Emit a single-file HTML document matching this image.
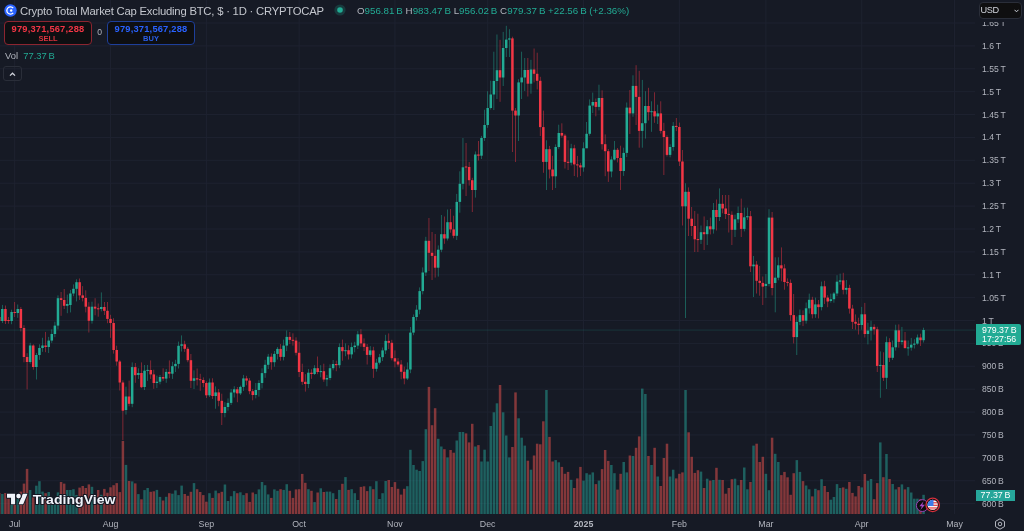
<!DOCTYPE html>
<html><head><meta charset="utf-8"><title>Crypto Total Market Cap Excluding BTC</title><style>
html,body{margin:0;padding:0;}
body{width:1024px;height:531px;overflow:hidden;background:#161a25;position:relative;font-family:"Liberation Sans",Arial,sans-serif;}
#chart{position:absolute;left:0;top:0;}
.pl{position:absolute;left:982px;height:12px;line-height:12px;font-size:8.6px;color:#b2b5be;white-space:nowrap;}
.tl{position:absolute;top:518px;width:40px;text-align:center;height:12px;line-height:12px;font-size:8.8px;color:#b2b5be;}
.tl.yr{font-weight:bold;}
#topmask{position:absolute;left:975px;top:0;width:49px;height:21.5px;background:#161a25;}
#usd{position:absolute;left:978.5px;top:2px;width:41px;height:14.5px;border:1px solid #2a2e39;border-radius:4px;background:#0f0f10;color:#d1d4dc;font-size:9.2px;letter-spacing:-0.35px;line-height:14.5px;}
#usd span{position:absolute;left:1px;top:0;}
#usd svg{position:absolute;right:1.8px;top:5.6px;}
.legend{position:absolute;left:0;top:0;white-space:nowrap;}
#title{position:absolute;left:20px;top:3.5px;font-size:11.3px;letter-spacing:-0.22px;line-height:15px;color:#c3c6cd;}
#logo{position:absolute;left:4px;top:4px;}
#ohlc{position:absolute;left:357px;top:4px;font-size:9.75px;line-height:14px;color:#22ab94;}
#ohlc b{font-weight:normal;color:#b2b5be;}
#dot{position:absolute;left:334px;top:4.3px;}
.box{position:absolute;top:21px;height:22px;border-radius:4px;background:#0e0f12;text-align:center;font-weight:bold;}
.box .n{font-size:9.3px;letter-spacing:0.2px;line-height:10px;margin-top:1.5px;}
.box .s{font-size:7.5px;line-height:9px;font-weight:bold;}
#sell{left:4px;width:86px;border:1px solid #8c2530;color:#f23645;}
#buy{left:107px;width:86px;border:1px solid #1e3f9a;color:#2962ff;}
#zero{position:absolute;left:97.2px;top:27px;font-size:8.6px;line-height:11px;color:#b2b5be;}
#vol{position:absolute;left:5px;top:50px;font-size:9.4px;line-height:12px;color:#b2b5be;}
#vol span{color:#22ab94;margin-left:5.2px;}
#coll{position:absolute;left:3px;top:66px;width:17px;height:13px;border:1px solid #2a2e39;border-radius:3px;}
#pricebox{position:absolute;left:976px;top:324.2px;width:45px;height:21px;background:#22ab94;border-radius:0 2px 2px 0;color:#fff;font-size:8.8px;line-height:9.5px;}
#pricebox div{margin-left:6px;}
#volbox{position:absolute;left:975.6px;top:489.6px;width:39.5px;height:11.5px;background:#26a69a;color:#fff;font-size:8.9px;line-height:11.5px;}
#volbox div{margin-left:5px;}
#tvlogo{position:absolute;left:0px;top:490px;}
#gear{position:absolute;left:994px;top:518px;}
#events{position:absolute;left:914px;top:497px;}
</style></head><body>
<svg id="chart" width="1024" height="531" viewBox="0 0 1024 531"><g><rect x="14.20" y="0" width="1" height="514" fill="#1e2230"/><rect x="110.03" y="0" width="1" height="514" fill="#1e2230"/><rect x="205.87" y="0" width="1" height="514" fill="#1e2230"/><rect x="298.61" y="0" width="1" height="514" fill="#1e2230"/><rect x="394.44" y="0" width="1" height="514" fill="#1e2230"/><rect x="487.18" y="0" width="1" height="514" fill="#1e2230"/><rect x="583.02" y="0" width="1" height="514" fill="#1e2230"/><rect x="678.85" y="0" width="1" height="514" fill="#1e2230"/><rect x="765.41" y="0" width="1" height="514" fill="#1e2230"/><rect x="861.24" y="0" width="1" height="514" fill="#1e2230"/><rect x="953.99" y="0" width="1" height="514" fill="#1e2230"/><rect x="0" y="22.52" width="975" height="1" fill="#1e2230"/><rect x="0" y="45.40" width="975" height="1" fill="#1e2230"/><rect x="0" y="68.29" width="975" height="1" fill="#1e2230"/><rect x="0" y="91.17" width="975" height="1" fill="#1e2230"/><rect x="0" y="114.06" width="975" height="1" fill="#1e2230"/><rect x="0" y="136.94" width="975" height="1" fill="#1e2230"/><rect x="0" y="159.82" width="975" height="1" fill="#1e2230"/><rect x="0" y="182.71" width="975" height="1" fill="#1e2230"/><rect x="0" y="205.60" width="975" height="1" fill="#1e2230"/><rect x="0" y="228.48" width="975" height="1" fill="#1e2230"/><rect x="0" y="251.37" width="975" height="1" fill="#1e2230"/><rect x="0" y="274.25" width="975" height="1" fill="#1e2230"/><rect x="0" y="297.13" width="975" height="1" fill="#1e2230"/><rect x="0" y="320.02" width="975" height="1" fill="#1e2230"/><rect x="0" y="342.91" width="975" height="1" fill="#1e2230"/><rect x="0" y="365.79" width="975" height="1" fill="#1e2230"/><rect x="0" y="388.68" width="975" height="1" fill="#1e2230"/><rect x="0" y="411.56" width="975" height="1" fill="#1e2230"/><rect x="0" y="434.44" width="975" height="1" fill="#1e2230"/><rect x="0" y="457.33" width="975" height="1" fill="#1e2230"/><rect x="0" y="480.21" width="975" height="1" fill="#1e2230"/><rect x="0" y="503.10" width="975" height="1" fill="#1e2230"/></g><g><rect x="-2.01" y="493.0" width="2.5" height="21.0" fill="rgba(239,83,80,0.5)"/><rect x="1.08" y="494.0" width="2.5" height="20.0" fill="rgba(38,166,154,0.5)"/><rect x="4.18" y="493.0" width="2.5" height="21.0" fill="rgba(239,83,80,0.5)"/><rect x="7.27" y="495.0" width="2.5" height="19.0" fill="rgba(239,83,80,0.5)"/><rect x="10.36" y="497.0" width="2.5" height="17.0" fill="rgba(38,166,154,0.5)"/><rect x="13.45" y="497.0" width="2.5" height="17.0" fill="rgba(239,83,80,0.5)"/><rect x="16.54" y="498.0" width="2.5" height="16.0" fill="rgba(38,166,154,0.5)"/><rect x="19.63" y="491.6" width="2.5" height="22.4" fill="rgba(239,83,80,0.5)"/><rect x="22.72" y="483.6" width="2.5" height="30.4" fill="rgba(239,83,80,0.5)"/><rect x="25.82" y="468.9" width="2.5" height="45.1" fill="rgba(239,83,80,0.5)"/><rect x="28.91" y="490.0" width="2.5" height="24.0" fill="rgba(38,166,154,0.5)"/><rect x="32.00" y="497.0" width="2.5" height="17.0" fill="rgba(239,83,80,0.5)"/><rect x="35.09" y="485.7" width="2.5" height="28.3" fill="rgba(38,166,154,0.5)"/><rect x="38.18" y="481.2" width="2.5" height="32.8" fill="rgba(38,166,154,0.5)"/><rect x="41.27" y="491.6" width="2.5" height="22.4" fill="rgba(38,166,154,0.5)"/><rect x="44.36" y="493.2" width="2.5" height="20.8" fill="rgba(239,83,80,0.5)"/><rect x="47.46" y="492.0" width="2.5" height="22.0" fill="rgba(38,166,154,0.5)"/><rect x="50.55" y="501.0" width="2.5" height="13.0" fill="rgba(38,166,154,0.5)"/><rect x="53.64" y="500.0" width="2.5" height="14.0" fill="rgba(38,166,154,0.5)"/><rect x="56.73" y="492.4" width="2.5" height="21.6" fill="rgba(38,166,154,0.5)"/><rect x="59.82" y="482.0" width="2.5" height="32.0" fill="rgba(239,83,80,0.5)"/><rect x="62.91" y="483.6" width="2.5" height="30.4" fill="rgba(239,83,80,0.5)"/><rect x="66.00" y="490.0" width="2.5" height="24.0" fill="rgba(38,166,154,0.5)"/><rect x="69.10" y="490.0" width="2.5" height="24.0" fill="rgba(38,166,154,0.5)"/><rect x="72.19" y="489.2" width="2.5" height="24.8" fill="rgba(38,166,154,0.5)"/><rect x="75.28" y="495.0" width="2.5" height="19.0" fill="rgba(38,166,154,0.5)"/><rect x="78.37" y="487.6" width="2.5" height="26.4" fill="rgba(239,83,80,0.5)"/><rect x="81.46" y="486.0" width="2.5" height="28.0" fill="rgba(239,83,80,0.5)"/><rect x="84.55" y="488.0" width="2.5" height="26.0" fill="rgba(239,83,80,0.5)"/><rect x="87.64" y="484.4" width="2.5" height="29.6" fill="rgba(239,83,80,0.5)"/><rect x="90.73" y="486.8" width="2.5" height="27.2" fill="rgba(38,166,154,0.5)"/><rect x="93.83" y="495.0" width="2.5" height="19.0" fill="rgba(239,83,80,0.5)"/><rect x="96.92" y="490.0" width="2.5" height="24.0" fill="rgba(239,83,80,0.5)"/><rect x="100.01" y="494.8" width="2.5" height="19.2" fill="rgba(38,166,154,0.5)"/><rect x="103.10" y="488.9" width="2.5" height="25.1" fill="rgba(239,83,80,0.5)"/><rect x="106.19" y="492.7" width="2.5" height="21.3" fill="rgba(239,83,80,0.5)"/><rect x="109.28" y="487.3" width="2.5" height="26.7" fill="rgba(239,83,80,0.5)"/><rect x="112.37" y="485.2" width="2.5" height="28.8" fill="rgba(239,83,80,0.5)"/><rect x="115.47" y="483.1" width="2.5" height="30.9" fill="rgba(239,83,80,0.5)"/><rect x="118.56" y="492.1" width="2.5" height="21.9" fill="rgba(239,83,80,0.5)"/><rect x="121.65" y="440.9" width="2.5" height="73.1" fill="rgba(239,83,80,0.5)"/><rect x="124.74" y="464.9" width="2.5" height="49.1" fill="rgba(38,166,154,0.5)"/><rect x="127.83" y="481.0" width="2.5" height="33.0" fill="rgba(239,83,80,0.5)"/><rect x="130.92" y="481.4" width="2.5" height="32.6" fill="rgba(38,166,154,0.5)"/><rect x="134.01" y="483.4" width="2.5" height="30.6" fill="rgba(239,83,80,0.5)"/><rect x="137.11" y="494.1" width="2.5" height="19.9" fill="rgba(38,166,154,0.5)"/><rect x="140.20" y="499.3" width="2.5" height="14.7" fill="rgba(239,83,80,0.5)"/><rect x="143.29" y="490.1" width="2.5" height="23.9" fill="rgba(38,166,154,0.5)"/><rect x="146.38" y="488.0" width="2.5" height="26.0" fill="rgba(38,166,154,0.5)"/><rect x="149.47" y="491.8" width="2.5" height="22.2" fill="rgba(239,83,80,0.5)"/><rect x="152.56" y="491.3" width="2.5" height="22.7" fill="rgba(239,83,80,0.5)"/><rect x="155.65" y="489.9" width="2.5" height="24.1" fill="rgba(38,166,154,0.5)"/><rect x="158.75" y="496.9" width="2.5" height="17.1" fill="rgba(38,166,154,0.5)"/><rect x="161.84" y="500.5" width="2.5" height="13.5" fill="rgba(239,83,80,0.5)"/><rect x="164.93" y="496.8" width="2.5" height="17.2" fill="rgba(38,166,154,0.5)"/><rect x="168.02" y="493.2" width="2.5" height="20.8" fill="rgba(239,83,80,0.5)"/><rect x="171.11" y="493.7" width="2.5" height="20.3" fill="rgba(38,166,154,0.5)"/><rect x="174.20" y="490.4" width="2.5" height="23.6" fill="rgba(38,166,154,0.5)"/><rect x="177.29" y="495.1" width="2.5" height="18.9" fill="rgba(38,166,154,0.5)"/><rect x="180.39" y="485.6" width="2.5" height="28.4" fill="rgba(38,166,154,0.5)"/><rect x="183.48" y="494.0" width="2.5" height="20.0" fill="rgba(239,83,80,0.5)"/><rect x="186.57" y="495.8" width="2.5" height="18.2" fill="rgba(239,83,80,0.5)"/><rect x="189.66" y="491.8" width="2.5" height="22.2" fill="rgba(239,83,80,0.5)"/><rect x="192.75" y="483.1" width="2.5" height="30.9" fill="rgba(38,166,154,0.5)"/><rect x="195.84" y="489.2" width="2.5" height="24.8" fill="rgba(239,83,80,0.5)"/><rect x="198.93" y="492.0" width="2.5" height="22.0" fill="rgba(239,83,80,0.5)"/><rect x="202.03" y="495.1" width="2.5" height="18.9" fill="rgba(239,83,80,0.5)"/><rect x="205.12" y="501.7" width="2.5" height="12.3" fill="rgba(239,83,80,0.5)"/><rect x="208.21" y="493.2" width="2.5" height="20.8" fill="rgba(38,166,154,0.5)"/><rect x="211.30" y="497.9" width="2.5" height="16.1" fill="rgba(239,83,80,0.5)"/><rect x="214.39" y="490.6" width="2.5" height="23.4" fill="rgba(38,166,154,0.5)"/><rect x="217.48" y="493.2" width="2.5" height="20.8" fill="rgba(239,83,80,0.5)"/><rect x="220.57" y="491.8" width="2.5" height="22.2" fill="rgba(239,83,80,0.5)"/><rect x="223.67" y="484.5" width="2.5" height="29.5" fill="rgba(38,166,154,0.5)"/><rect x="226.76" y="501.0" width="2.5" height="13.0" fill="rgba(38,166,154,0.5)"/><rect x="229.85" y="496.2" width="2.5" height="17.8" fill="rgba(38,166,154,0.5)"/><rect x="232.94" y="491.1" width="2.5" height="22.9" fill="rgba(38,166,154,0.5)"/><rect x="236.03" y="493.2" width="2.5" height="20.8" fill="rgba(239,83,80,0.5)"/><rect x="239.12" y="492.3" width="2.5" height="21.7" fill="rgba(38,166,154,0.5)"/><rect x="242.21" y="495.1" width="2.5" height="18.9" fill="rgba(38,166,154,0.5)"/><rect x="245.31" y="493.2" width="2.5" height="20.8" fill="rgba(239,83,80,0.5)"/><rect x="248.40" y="501.9" width="2.5" height="12.1" fill="rgba(239,83,80,0.5)"/><rect x="251.49" y="492.5" width="2.5" height="21.5" fill="rgba(239,83,80,0.5)"/><rect x="254.58" y="494.1" width="2.5" height="19.9" fill="rgba(38,166,154,0.5)"/><rect x="257.67" y="489.4" width="2.5" height="24.6" fill="rgba(38,166,154,0.5)"/><rect x="260.76" y="482.0" width="2.5" height="32.0" fill="rgba(38,166,154,0.5)"/><rect x="263.85" y="485.2" width="2.5" height="28.8" fill="rgba(38,166,154,0.5)"/><rect x="266.94" y="494.4" width="2.5" height="19.6" fill="rgba(38,166,154,0.5)"/><rect x="270.04" y="497.9" width="2.5" height="16.1" fill="rgba(239,83,80,0.5)"/><rect x="273.13" y="489.4" width="2.5" height="24.6" fill="rgba(38,166,154,0.5)"/><rect x="276.22" y="490.8" width="2.5" height="23.2" fill="rgba(38,166,154,0.5)"/><rect x="279.31" y="489.2" width="2.5" height="24.8" fill="rgba(239,83,80,0.5)"/><rect x="282.40" y="489.9" width="2.5" height="24.1" fill="rgba(38,166,154,0.5)"/><rect x="285.49" y="484.2" width="2.5" height="29.8" fill="rgba(38,166,154,0.5)"/><rect x="288.58" y="490.8" width="2.5" height="23.2" fill="rgba(239,83,80,0.5)"/><rect x="291.68" y="497.9" width="2.5" height="16.1" fill="rgba(239,83,80,0.5)"/><rect x="294.77" y="489.4" width="2.5" height="24.6" fill="rgba(239,83,80,0.5)"/><rect x="297.86" y="489.2" width="2.5" height="24.8" fill="rgba(239,83,80,0.5)"/><rect x="300.95" y="473.9" width="2.5" height="40.1" fill="rgba(239,83,80,0.5)"/><rect x="304.04" y="482.8" width="2.5" height="31.2" fill="rgba(239,83,80,0.5)"/><rect x="307.13" y="489.2" width="2.5" height="24.8" fill="rgba(38,166,154,0.5)"/><rect x="310.22" y="490.8" width="2.5" height="23.2" fill="rgba(239,83,80,0.5)"/><rect x="313.32" y="502.1" width="2.5" height="11.9" fill="rgba(38,166,154,0.5)"/><rect x="316.41" y="492.5" width="2.5" height="21.5" fill="rgba(239,83,80,0.5)"/><rect x="319.50" y="488.3" width="2.5" height="25.7" fill="rgba(38,166,154,0.5)"/><rect x="322.59" y="492.0" width="2.5" height="22.0" fill="rgba(239,83,80,0.5)"/><rect x="325.68" y="491.6" width="2.5" height="22.4" fill="rgba(38,166,154,0.5)"/><rect x="328.77" y="491.6" width="2.5" height="22.4" fill="rgba(38,166,154,0.5)"/><rect x="331.86" y="493.2" width="2.5" height="20.8" fill="rgba(38,166,154,0.5)"/><rect x="334.96" y="499.0" width="2.5" height="15.0" fill="rgba(239,83,80,0.5)"/><rect x="338.05" y="489.9" width="2.5" height="24.1" fill="rgba(38,166,154,0.5)"/><rect x="341.14" y="483.8" width="2.5" height="30.2" fill="rgba(239,83,80,0.5)"/><rect x="344.23" y="477.1" width="2.5" height="36.9" fill="rgba(38,166,154,0.5)"/><rect x="347.32" y="489.9" width="2.5" height="24.1" fill="rgba(239,83,80,0.5)"/><rect x="350.41" y="489.2" width="2.5" height="24.8" fill="rgba(38,166,154,0.5)"/><rect x="353.50" y="493.2" width="2.5" height="20.8" fill="rgba(38,166,154,0.5)"/><rect x="356.60" y="500.0" width="2.5" height="14.0" fill="rgba(38,166,154,0.5)"/><rect x="359.69" y="486.9" width="2.5" height="27.1" fill="rgba(239,83,80,0.5)"/><rect x="362.78" y="486.3" width="2.5" height="27.7" fill="rgba(239,83,80,0.5)"/><rect x="365.87" y="491.1" width="2.5" height="22.9" fill="rgba(239,83,80,0.5)"/><rect x="368.96" y="486.3" width="2.5" height="27.7" fill="rgba(38,166,154,0.5)"/><rect x="372.05" y="489.2" width="2.5" height="24.8" fill="rgba(239,83,80,0.5)"/><rect x="375.14" y="481.2" width="2.5" height="32.8" fill="rgba(38,166,154,0.5)"/><rect x="378.24" y="499.0" width="2.5" height="15.0" fill="rgba(38,166,154,0.5)"/><rect x="381.33" y="493.2" width="2.5" height="20.8" fill="rgba(38,166,154,0.5)"/><rect x="384.42" y="481.0" width="2.5" height="33.0" fill="rgba(38,166,154,0.5)"/><rect x="387.51" y="480.0" width="2.5" height="34.0" fill="rgba(239,83,80,0.5)"/><rect x="390.60" y="487.0" width="2.5" height="27.0" fill="rgba(239,83,80,0.5)"/><rect x="393.69" y="482.1" width="2.5" height="31.9" fill="rgba(239,83,80,0.5)"/><rect x="396.78" y="488.8" width="2.5" height="25.2" fill="rgba(239,83,80,0.5)"/><rect x="399.88" y="494.6" width="2.5" height="19.4" fill="rgba(239,83,80,0.5)"/><rect x="402.97" y="488.8" width="2.5" height="25.2" fill="rgba(239,83,80,0.5)"/><rect x="406.06" y="486.2" width="2.5" height="27.8" fill="rgba(38,166,154,0.5)"/><rect x="409.15" y="449.8" width="2.5" height="64.2" fill="rgba(38,166,154,0.5)"/><rect x="412.24" y="465.0" width="2.5" height="49.0" fill="rgba(38,166,154,0.5)"/><rect x="415.33" y="469.7" width="2.5" height="44.3" fill="rgba(38,166,154,0.5)"/><rect x="418.42" y="471.0" width="2.5" height="43.0" fill="rgba(38,166,154,0.5)"/><rect x="421.51" y="461.1" width="2.5" height="52.9" fill="rgba(38,166,154,0.5)"/><rect x="424.61" y="429.2" width="2.5" height="84.8" fill="rgba(38,166,154,0.5)"/><rect x="427.70" y="386.9" width="2.5" height="127.1" fill="rgba(239,83,80,0.5)"/><rect x="430.79" y="425.2" width="2.5" height="88.8" fill="rgba(239,83,80,0.5)"/><rect x="433.88" y="408.2" width="2.5" height="105.8" fill="rgba(239,83,80,0.5)"/><rect x="436.97" y="438.8" width="2.5" height="75.2" fill="rgba(38,166,154,0.5)"/><rect x="440.06" y="446.5" width="2.5" height="67.5" fill="rgba(38,166,154,0.5)"/><rect x="443.15" y="449.2" width="2.5" height="64.8" fill="rgba(239,83,80,0.5)"/><rect x="446.25" y="457.4" width="2.5" height="56.6" fill="rgba(38,166,154,0.5)"/><rect x="449.34" y="450.0" width="2.5" height="64.0" fill="rgba(239,83,80,0.5)"/><rect x="452.43" y="452.7" width="2.5" height="61.3" fill="rgba(239,83,80,0.5)"/><rect x="455.52" y="440.5" width="2.5" height="73.5" fill="rgba(38,166,154,0.5)"/><rect x="458.61" y="432.0" width="2.5" height="82.0" fill="rgba(38,166,154,0.5)"/><rect x="461.70" y="432.0" width="2.5" height="82.0" fill="rgba(38,166,154,0.5)"/><rect x="464.79" y="433.4" width="2.5" height="80.6" fill="rgba(239,83,80,0.5)"/><rect x="467.89" y="442.4" width="2.5" height="71.6" fill="rgba(239,83,80,0.5)"/><rect x="470.98" y="423.8" width="2.5" height="90.2" fill="rgba(239,83,80,0.5)"/><rect x="474.07" y="446.5" width="2.5" height="67.5" fill="rgba(38,166,154,0.5)"/><rect x="477.16" y="445.1" width="2.5" height="68.9" fill="rgba(239,83,80,0.5)"/><rect x="480.25" y="461.5" width="2.5" height="52.5" fill="rgba(38,166,154,0.5)"/><rect x="483.34" y="449.7" width="2.5" height="64.3" fill="rgba(38,166,154,0.5)"/><rect x="486.43" y="461.5" width="2.5" height="52.5" fill="rgba(38,166,154,0.5)"/><rect x="489.53" y="426.0" width="2.5" height="88.0" fill="rgba(38,166,154,0.5)"/><rect x="492.62" y="412.3" width="2.5" height="101.7" fill="rgba(38,166,154,0.5)"/><rect x="495.71" y="403.3" width="2.5" height="110.7" fill="rgba(38,166,154,0.5)"/><rect x="498.80" y="385.0" width="2.5" height="129.0" fill="rgba(239,83,80,0.5)"/><rect x="501.89" y="412.3" width="2.5" height="101.7" fill="rgba(38,166,154,0.5)"/><rect x="504.98" y="435.5" width="2.5" height="78.5" fill="rgba(38,166,154,0.5)"/><rect x="508.07" y="457.4" width="2.5" height="56.6" fill="rgba(38,166,154,0.5)"/><rect x="511.17" y="447.0" width="2.5" height="67.0" fill="rgba(239,83,80,0.5)"/><rect x="514.26" y="392.4" width="2.5" height="121.6" fill="rgba(239,83,80,0.5)"/><rect x="517.35" y="418.3" width="2.5" height="95.7" fill="rgba(38,166,154,0.5)"/><rect x="520.44" y="437.7" width="2.5" height="76.3" fill="rgba(38,166,154,0.5)"/><rect x="523.53" y="445.6" width="2.5" height="68.4" fill="rgba(38,166,154,0.5)"/><rect x="526.62" y="460.7" width="2.5" height="53.3" fill="rgba(239,83,80,0.5)"/><rect x="529.71" y="469.7" width="2.5" height="44.3" fill="rgba(38,166,154,0.5)"/><rect x="532.81" y="455.5" width="2.5" height="58.5" fill="rgba(239,83,80,0.5)"/><rect x="535.90" y="443.7" width="2.5" height="70.3" fill="rgba(239,83,80,0.5)"/><rect x="538.99" y="444.3" width="2.5" height="69.7" fill="rgba(239,83,80,0.5)"/><rect x="542.08" y="421.3" width="2.5" height="92.7" fill="rgba(239,83,80,0.5)"/><rect x="545.17" y="390.0" width="2.5" height="124.0" fill="rgba(38,166,154,0.5)"/><rect x="548.26" y="436.9" width="2.5" height="77.1" fill="rgba(239,83,80,0.5)"/><rect x="551.35" y="461.5" width="2.5" height="52.5" fill="rgba(239,83,80,0.5)"/><rect x="554.45" y="460.1" width="2.5" height="53.9" fill="rgba(38,166,154,0.5)"/><rect x="557.54" y="462.3" width="2.5" height="51.7" fill="rgba(38,166,154,0.5)"/><rect x="560.63" y="466.9" width="2.5" height="47.1" fill="rgba(239,83,80,0.5)"/><rect x="563.72" y="473.8" width="2.5" height="40.2" fill="rgba(239,83,80,0.5)"/><rect x="566.81" y="471.9" width="2.5" height="42.1" fill="rgba(239,83,80,0.5)"/><rect x="569.90" y="479.8" width="2.5" height="34.2" fill="rgba(38,166,154,0.5)"/><rect x="572.99" y="488.0" width="2.5" height="26.0" fill="rgba(239,83,80,0.5)"/><rect x="576.08" y="478.4" width="2.5" height="35.6" fill="rgba(239,83,80,0.5)"/><rect x="579.18" y="466.9" width="2.5" height="47.1" fill="rgba(239,83,80,0.5)"/><rect x="582.27" y="480.6" width="2.5" height="33.4" fill="rgba(38,166,154,0.5)"/><rect x="585.36" y="473.2" width="2.5" height="40.8" fill="rgba(38,166,154,0.5)"/><rect x="588.45" y="474.6" width="2.5" height="39.4" fill="rgba(38,166,154,0.5)"/><rect x="591.54" y="472.4" width="2.5" height="41.6" fill="rgba(38,166,154,0.5)"/><rect x="594.63" y="484.1" width="2.5" height="29.9" fill="rgba(239,83,80,0.5)"/><rect x="597.72" y="480.6" width="2.5" height="33.4" fill="rgba(38,166,154,0.5)"/><rect x="600.82" y="469.1" width="2.5" height="44.9" fill="rgba(239,83,80,0.5)"/><rect x="603.91" y="450.0" width="2.5" height="64.0" fill="rgba(239,83,80,0.5)"/><rect x="607.00" y="460.9" width="2.5" height="53.1" fill="rgba(239,83,80,0.5)"/><rect x="610.09" y="465.0" width="2.5" height="49.0" fill="rgba(38,166,154,0.5)"/><rect x="613.18" y="473.2" width="2.5" height="40.8" fill="rgba(38,166,154,0.5)"/><rect x="616.27" y="489.6" width="2.5" height="24.4" fill="rgba(239,83,80,0.5)"/><rect x="619.36" y="473.8" width="2.5" height="40.2" fill="rgba(239,83,80,0.5)"/><rect x="622.46" y="462.0" width="2.5" height="52.0" fill="rgba(38,166,154,0.5)"/><rect x="625.55" y="472.4" width="2.5" height="41.6" fill="rgba(38,166,154,0.5)"/><rect x="628.64" y="455.5" width="2.5" height="58.5" fill="rgba(239,83,80,0.5)"/><rect x="631.73" y="456.0" width="2.5" height="58.0" fill="rgba(38,166,154,0.5)"/><rect x="634.82" y="447.8" width="2.5" height="66.2" fill="rgba(239,83,80,0.5)"/><rect x="637.91" y="436.4" width="2.5" height="77.6" fill="rgba(239,83,80,0.5)"/><rect x="641.00" y="388.6" width="2.5" height="125.4" fill="rgba(38,166,154,0.5)"/><rect x="644.10" y="394.0" width="2.5" height="120.0" fill="rgba(38,166,154,0.5)"/><rect x="647.19" y="456.0" width="2.5" height="58.0" fill="rgba(239,83,80,0.5)"/><rect x="650.28" y="465.0" width="2.5" height="49.0" fill="rgba(38,166,154,0.5)"/><rect x="653.37" y="447.8" width="2.5" height="66.2" fill="rgba(239,83,80,0.5)"/><rect x="656.46" y="476.5" width="2.5" height="37.5" fill="rgba(38,166,154,0.5)"/><rect x="659.55" y="486.0" width="2.5" height="28.0" fill="rgba(239,83,80,0.5)"/><rect x="662.64" y="458.0" width="2.5" height="56.0" fill="rgba(239,83,80,0.5)"/><rect x="665.74" y="443.7" width="2.5" height="70.3" fill="rgba(239,83,80,0.5)"/><rect x="668.83" y="476.5" width="2.5" height="37.5" fill="rgba(38,166,154,0.5)"/><rect x="671.92" y="469.7" width="2.5" height="44.3" fill="rgba(38,166,154,0.5)"/><rect x="675.01" y="478.4" width="2.5" height="35.6" fill="rgba(239,83,80,0.5)"/><rect x="678.10" y="473.8" width="2.5" height="40.2" fill="rgba(239,83,80,0.5)"/><rect x="681.19" y="472.4" width="2.5" height="41.6" fill="rgba(239,83,80,0.5)"/><rect x="684.28" y="390.0" width="2.5" height="124.0" fill="rgba(38,166,154,0.5)"/><rect x="687.38" y="432.3" width="2.5" height="81.7" fill="rgba(239,83,80,0.5)"/><rect x="690.47" y="456.8" width="2.5" height="57.2" fill="rgba(239,83,80,0.5)"/><rect x="693.56" y="472.9" width="2.5" height="41.1" fill="rgba(239,83,80,0.5)"/><rect x="696.65" y="470.2" width="2.5" height="43.8" fill="rgba(239,83,80,0.5)"/><rect x="699.74" y="471.6" width="2.5" height="42.4" fill="rgba(38,166,154,0.5)"/><rect x="702.83" y="488.0" width="2.5" height="26.0" fill="rgba(239,83,80,0.5)"/><rect x="705.92" y="478.7" width="2.5" height="35.3" fill="rgba(38,166,154,0.5)"/><rect x="709.02" y="480.6" width="2.5" height="33.4" fill="rgba(239,83,80,0.5)"/><rect x="712.11" y="480.0" width="2.5" height="34.0" fill="rgba(38,166,154,0.5)"/><rect x="715.20" y="467.8" width="2.5" height="46.2" fill="rgba(239,83,80,0.5)"/><rect x="718.29" y="479.8" width="2.5" height="34.2" fill="rgba(38,166,154,0.5)"/><rect x="721.38" y="480.0" width="2.5" height="34.0" fill="rgba(239,83,80,0.5)"/><rect x="724.47" y="493.7" width="2.5" height="20.3" fill="rgba(239,83,80,0.5)"/><rect x="727.56" y="488.0" width="2.5" height="26.0" fill="rgba(239,83,80,0.5)"/><rect x="730.65" y="479.2" width="2.5" height="34.8" fill="rgba(239,83,80,0.5)"/><rect x="733.75" y="478.7" width="2.5" height="35.3" fill="rgba(38,166,154,0.5)"/><rect x="736.84" y="485.2" width="2.5" height="28.8" fill="rgba(38,166,154,0.5)"/><rect x="739.93" y="480.0" width="2.5" height="34.0" fill="rgba(239,83,80,0.5)"/><rect x="743.02" y="467.5" width="2.5" height="46.5" fill="rgba(38,166,154,0.5)"/><rect x="746.11" y="489.3" width="2.5" height="24.7" fill="rgba(38,166,154,0.5)"/><rect x="749.20" y="482.0" width="2.5" height="32.0" fill="rgba(239,83,80,0.5)"/><rect x="752.29" y="445.6" width="2.5" height="68.4" fill="rgba(38,166,154,0.5)"/><rect x="755.39" y="443.7" width="2.5" height="70.3" fill="rgba(239,83,80,0.5)"/><rect x="758.48" y="462.0" width="2.5" height="52.0" fill="rgba(239,83,80,0.5)"/><rect x="761.57" y="456.8" width="2.5" height="57.2" fill="rgba(239,83,80,0.5)"/><rect x="764.66" y="473.8" width="2.5" height="40.2" fill="rgba(38,166,154,0.5)"/><rect x="767.75" y="490.2" width="2.5" height="23.8" fill="rgba(38,166,154,0.5)"/><rect x="770.84" y="437.7" width="2.5" height="76.3" fill="rgba(239,83,80,0.5)"/><rect x="773.93" y="453.8" width="2.5" height="60.2" fill="rgba(38,166,154,0.5)"/><rect x="777.03" y="462.0" width="2.5" height="52.0" fill="rgba(38,166,154,0.5)"/><rect x="780.12" y="475.1" width="2.5" height="38.9" fill="rgba(239,83,80,0.5)"/><rect x="783.21" y="471.9" width="2.5" height="42.1" fill="rgba(239,83,80,0.5)"/><rect x="786.30" y="477.3" width="2.5" height="36.7" fill="rgba(239,83,80,0.5)"/><rect x="789.39" y="494.8" width="2.5" height="19.2" fill="rgba(239,83,80,0.5)"/><rect x="792.48" y="473.2" width="2.5" height="40.8" fill="rgba(239,83,80,0.5)"/><rect x="795.57" y="460.1" width="2.5" height="53.9" fill="rgba(38,166,154,0.5)"/><rect x="798.67" y="471.9" width="2.5" height="42.1" fill="rgba(38,166,154,0.5)"/><rect x="801.76" y="481.1" width="2.5" height="32.9" fill="rgba(239,83,80,0.5)"/><rect x="804.85" y="485.5" width="2.5" height="28.5" fill="rgba(38,166,154,0.5)"/><rect x="807.94" y="489.3" width="2.5" height="24.7" fill="rgba(38,166,154,0.5)"/><rect x="811.03" y="496.4" width="2.5" height="17.6" fill="rgba(239,83,80,0.5)"/><rect x="814.12" y="488.8" width="2.5" height="25.2" fill="rgba(38,166,154,0.5)"/><rect x="817.21" y="490.2" width="2.5" height="23.8" fill="rgba(239,83,80,0.5)"/><rect x="820.31" y="479.2" width="2.5" height="34.8" fill="rgba(38,166,154,0.5)"/><rect x="823.40" y="486.0" width="2.5" height="28.0" fill="rgba(239,83,80,0.5)"/><rect x="826.49" y="492.0" width="2.5" height="22.0" fill="rgba(239,83,80,0.5)"/><rect x="829.58" y="499.7" width="2.5" height="14.3" fill="rgba(38,166,154,0.5)"/><rect x="832.67" y="497.0" width="2.5" height="17.0" fill="rgba(38,166,154,0.5)"/><rect x="835.76" y="484.1" width="2.5" height="29.9" fill="rgba(38,166,154,0.5)"/><rect x="838.85" y="488.0" width="2.5" height="26.0" fill="rgba(38,166,154,0.5)"/><rect x="841.95" y="487.4" width="2.5" height="26.6" fill="rgba(239,83,80,0.5)"/><rect x="845.04" y="488.8" width="2.5" height="25.2" fill="rgba(38,166,154,0.5)"/><rect x="848.13" y="482.0" width="2.5" height="32.0" fill="rgba(239,83,80,0.5)"/><rect x="851.22" y="492.9" width="2.5" height="21.1" fill="rgba(239,83,80,0.5)"/><rect x="854.31" y="496.4" width="2.5" height="17.6" fill="rgba(239,83,80,0.5)"/><rect x="857.40" y="486.0" width="2.5" height="28.0" fill="rgba(239,83,80,0.5)"/><rect x="860.49" y="487.4" width="2.5" height="26.6" fill="rgba(38,166,154,0.5)"/><rect x="863.59" y="474.0" width="2.5" height="40.0" fill="rgba(239,83,80,0.5)"/><rect x="866.68" y="480.8" width="2.5" height="33.2" fill="rgba(38,166,154,0.5)"/><rect x="869.77" y="479.0" width="2.5" height="35.0" fill="rgba(38,166,154,0.5)"/><rect x="872.86" y="499.2" width="2.5" height="14.8" fill="rgba(239,83,80,0.5)"/><rect x="875.95" y="483.1" width="2.5" height="30.9" fill="rgba(239,83,80,0.5)"/><rect x="879.04" y="442.4" width="2.5" height="71.6" fill="rgba(38,166,154,0.5)"/><rect x="882.13" y="477.2" width="2.5" height="36.8" fill="rgba(239,83,80,0.5)"/><rect x="885.22" y="454.0" width="2.5" height="60.0" fill="rgba(38,166,154,0.5)"/><rect x="888.32" y="479.0" width="2.5" height="35.0" fill="rgba(239,83,80,0.5)"/><rect x="891.41" y="484.0" width="2.5" height="30.0" fill="rgba(38,166,154,0.5)"/><rect x="894.50" y="489.4" width="2.5" height="24.6" fill="rgba(38,166,154,0.5)"/><rect x="897.59" y="487.1" width="2.5" height="26.9" fill="rgba(239,83,80,0.5)"/><rect x="900.68" y="484.4" width="2.5" height="29.6" fill="rgba(38,166,154,0.5)"/><rect x="903.77" y="489.4" width="2.5" height="24.6" fill="rgba(239,83,80,0.5)"/><rect x="906.86" y="487.1" width="2.5" height="26.9" fill="rgba(38,166,154,0.5)"/><rect x="909.96" y="492.5" width="2.5" height="21.5" fill="rgba(38,166,154,0.5)"/><rect x="913.05" y="498.7" width="2.5" height="15.3" fill="rgba(38,166,154,0.5)"/><rect x="916.14" y="498.7" width="2.5" height="15.3" fill="rgba(38,166,154,0.5)"/><rect x="919.23" y="499.0" width="2.5" height="15.0" fill="rgba(239,83,80,0.5)"/><rect x="922.32" y="494.8" width="2.5" height="19.2" fill="rgba(38,166,154,0.5)"/></g><g><rect x="-1.11" y="314.2" width="0.7" height="8.9" fill="#f23645" opacity="0.68"/><rect x="-2.01" y="317.0" width="2.5" height="4.0" fill="#f23645"/><rect x="1.98" y="304.9" width="0.7" height="18.1" fill="#22ab94" opacity="0.68"/><rect x="1.08" y="309.0" width="2.5" height="12.0" fill="#22ab94"/><rect x="5.08" y="305.5" width="0.7" height="18.5" fill="#f23645" opacity="0.68"/><rect x="4.18" y="309.0" width="2.5" height="12.0" fill="#f23645"/><rect x="8.17" y="317.0" width="0.7" height="6.6" fill="#f23645" opacity="0.68"/><rect x="7.27" y="320.0" width="2.5" height="1.0" fill="#f23645"/><rect x="11.26" y="309.7" width="0.7" height="14.5" fill="#22ab94" opacity="0.68"/><rect x="10.36" y="312.0" width="2.5" height="9.0" fill="#22ab94"/><rect x="14.35" y="302.0" width="0.7" height="15.0" fill="#f23645" opacity="0.68"/><rect x="13.45" y="312.0" width="2.5" height="1.0" fill="#f23645"/><rect x="17.44" y="304.5" width="0.7" height="13.3" fill="#22ab94" opacity="0.68"/><rect x="16.54" y="309.0" width="2.5" height="4.0" fill="#22ab94"/><rect x="20.53" y="307.0" width="0.7" height="24.4" fill="#f23645" opacity="0.68"/><rect x="19.63" y="309.0" width="2.5" height="19.0" fill="#f23645"/><rect x="23.62" y="325.2" width="0.7" height="37.1" fill="#f23645" opacity="0.68"/><rect x="22.72" y="328.0" width="2.5" height="29.0" fill="#f23645"/><rect x="26.72" y="353.2" width="0.7" height="36.2" fill="#f23645" opacity="0.68"/><rect x="25.82" y="357.0" width="2.5" height="5.0" fill="#f23645"/><rect x="29.81" y="342.8" width="0.7" height="20.9" fill="#22ab94" opacity="0.68"/><rect x="28.91" y="345.5" width="2.5" height="16.5" fill="#22ab94"/><rect x="32.90" y="344.3" width="0.7" height="25.4" fill="#f23645" opacity="0.68"/><rect x="32.00" y="345.5" width="2.5" height="21.5" fill="#f23645"/><rect x="35.99" y="352.9" width="0.7" height="26.6" fill="#22ab94" opacity="0.68"/><rect x="35.09" y="355.0" width="2.5" height="12.0" fill="#22ab94"/><rect x="39.08" y="344.3" width="0.7" height="15.5" fill="#22ab94" opacity="0.68"/><rect x="38.18" y="348.0" width="2.5" height="7.0" fill="#22ab94"/><rect x="42.17" y="337.8" width="0.7" height="14.0" fill="#22ab94" opacity="0.68"/><rect x="41.27" y="345.5" width="2.5" height="2.5" fill="#22ab94"/><rect x="45.26" y="331.9" width="0.7" height="20.3" fill="#f23645" opacity="0.68"/><rect x="44.36" y="345.5" width="2.5" height="1.5" fill="#f23645"/><rect x="48.36" y="336.9" width="0.7" height="16.1" fill="#22ab94" opacity="0.68"/><rect x="47.46" y="340.6" width="2.5" height="6.4" fill="#22ab94"/><rect x="51.45" y="329.3" width="0.7" height="13.6" fill="#22ab94" opacity="0.68"/><rect x="50.55" y="334.0" width="2.5" height="6.6" fill="#22ab94"/><rect x="54.54" y="321.7" width="0.7" height="15.5" fill="#22ab94" opacity="0.68"/><rect x="53.64" y="325.6" width="2.5" height="8.4" fill="#22ab94"/><rect x="57.63" y="295.4" width="0.7" height="34.0" fill="#22ab94" opacity="0.68"/><rect x="56.73" y="298.2" width="2.5" height="27.4" fill="#22ab94"/><rect x="60.72" y="292.0" width="0.7" height="23.8" fill="#f23645" opacity="0.68"/><rect x="59.82" y="298.2" width="2.5" height="1.8" fill="#f23645"/><rect x="63.81" y="289.0" width="0.7" height="20.0" fill="#f23645" opacity="0.68"/><rect x="62.91" y="300.0" width="2.5" height="5.8" fill="#f23645"/><rect x="66.90" y="294.6" width="0.7" height="18.6" fill="#22ab94" opacity="0.68"/><rect x="66.00" y="304.0" width="2.5" height="1.8" fill="#22ab94"/><rect x="70.00" y="289.9" width="0.7" height="22.5" fill="#22ab94" opacity="0.68"/><rect x="69.10" y="293.5" width="2.5" height="11.5" fill="#22ab94"/><rect x="73.09" y="284.4" width="0.7" height="11.8" fill="#22ab94" opacity="0.68"/><rect x="72.19" y="288.8" width="2.5" height="4.7" fill="#22ab94"/><rect x="76.18" y="279.3" width="0.7" height="22.1" fill="#22ab94" opacity="0.68"/><rect x="75.28" y="282.2" width="2.5" height="6.6" fill="#22ab94"/><rect x="79.27" y="278.5" width="0.7" height="21.4" fill="#f23645" opacity="0.68"/><rect x="78.37" y="282.2" width="2.5" height="13.2" fill="#f23645"/><rect x="82.36" y="286.1" width="0.7" height="15.3" fill="#f23645" opacity="0.68"/><rect x="81.46" y="295.4" width="2.5" height="2.5" fill="#f23645"/><rect x="85.45" y="290.3" width="0.7" height="22.1" fill="#f23645" opacity="0.68"/><rect x="84.55" y="297.9" width="2.5" height="8.8" fill="#f23645"/><rect x="88.54" y="302.1" width="0.7" height="30.4" fill="#f23645" opacity="0.68"/><rect x="87.64" y="306.7" width="2.5" height="14.1" fill="#f23645"/><rect x="91.64" y="301.7" width="0.7" height="21.9" fill="#22ab94" opacity="0.68"/><rect x="90.73" y="306.7" width="2.5" height="14.1" fill="#22ab94"/><rect x="94.73" y="298.2" width="0.7" height="17.1" fill="#f23645" opacity="0.68"/><rect x="93.83" y="306.7" width="2.5" height="1.9" fill="#f23645"/><rect x="97.82" y="303.5" width="0.7" height="13.2" fill="#f23645" opacity="0.68"/><rect x="96.92" y="308.3" width="2.5" height="1.0" fill="#f23645"/><rect x="100.91" y="292.4" width="0.7" height="19.0" fill="#22ab94" opacity="0.68"/><rect x="100.01" y="307.0" width="2.5" height="2.0" fill="#22ab94"/><rect x="104.00" y="302.0" width="0.7" height="13.0" fill="#f23645" opacity="0.68"/><rect x="103.10" y="307.0" width="2.5" height="3.8" fill="#f23645"/><rect x="107.09" y="302.0" width="0.7" height="21.2" fill="#f23645" opacity="0.68"/><rect x="106.19" y="310.8" width="2.5" height="8.1" fill="#f23645"/><rect x="110.18" y="314.8" width="0.7" height="23.0" fill="#f23645" opacity="0.68"/><rect x="109.28" y="318.9" width="2.5" height="4.1" fill="#f23645"/><rect x="113.27" y="318.2" width="0.7" height="35.4" fill="#f23645" opacity="0.68"/><rect x="112.37" y="323.0" width="2.5" height="27.0" fill="#f23645"/><rect x="116.37" y="345.7" width="0.7" height="20.0" fill="#f23645" opacity="0.68"/><rect x="115.47" y="350.0" width="2.5" height="11.5" fill="#f23645"/><rect x="119.46" y="359.9" width="0.7" height="30.6" fill="#f23645" opacity="0.68"/><rect x="118.56" y="361.5" width="2.5" height="21.0" fill="#f23645"/><rect x="122.55" y="380.3" width="0.7" height="59.7" fill="#f23645" opacity="0.68"/><rect x="121.65" y="382.5" width="2.5" height="28.2" fill="#f23645"/><rect x="125.64" y="386.7" width="0.7" height="27.9" fill="#22ab94" opacity="0.68"/><rect x="124.74" y="396.5" width="2.5" height="13.5" fill="#22ab94"/><rect x="128.73" y="380.6" width="0.7" height="25.7" fill="#f23645" opacity="0.68"/><rect x="127.83" y="396.5" width="2.5" height="7.3" fill="#f23645"/><rect x="131.82" y="362.4" width="0.7" height="44.8" fill="#22ab94" opacity="0.68"/><rect x="130.92" y="367.1" width="2.5" height="36.7" fill="#22ab94"/><rect x="134.91" y="363.0" width="0.7" height="19.8" fill="#f23645" opacity="0.68"/><rect x="134.01" y="367.1" width="2.5" height="8.1" fill="#f23645"/><rect x="138.01" y="368.3" width="0.7" height="10.6" fill="#22ab94" opacity="0.68"/><rect x="137.11" y="373.0" width="2.5" height="2.0" fill="#22ab94"/><rect x="141.10" y="362.4" width="0.7" height="25.7" fill="#f23645" opacity="0.68"/><rect x="140.20" y="373.0" width="2.5" height="14.2" fill="#f23645"/><rect x="144.19" y="365.0" width="0.7" height="25.0" fill="#22ab94" opacity="0.68"/><rect x="143.29" y="370.7" width="2.5" height="16.3" fill="#22ab94"/><rect x="147.28" y="365.0" width="0.7" height="15.9" fill="#22ab94" opacity="0.68"/><rect x="146.38" y="369.9" width="2.5" height="1.0" fill="#22ab94"/><rect x="150.37" y="360.4" width="0.7" height="18.5" fill="#f23645" opacity="0.68"/><rect x="149.47" y="370.0" width="2.5" height="4.4" fill="#f23645"/><rect x="153.46" y="369.7" width="0.7" height="19.1" fill="#f23645" opacity="0.68"/><rect x="152.56" y="374.4" width="2.5" height="8.6" fill="#f23645"/><rect x="156.55" y="375.6" width="0.7" height="12.5" fill="#22ab94" opacity="0.68"/><rect x="155.65" y="381.7" width="2.5" height="1.3" fill="#22ab94"/><rect x="159.65" y="375.0" width="0.7" height="9.3" fill="#22ab94" opacity="0.68"/><rect x="158.75" y="377.0" width="2.5" height="4.7" fill="#22ab94"/><rect x="162.74" y="368.3" width="0.7" height="12.6" fill="#f23645" opacity="0.68"/><rect x="161.84" y="377.0" width="2.5" height="1.6" fill="#f23645"/><rect x="165.83" y="369.0" width="0.7" height="13.8" fill="#22ab94" opacity="0.68"/><rect x="164.93" y="371.9" width="2.5" height="6.7" fill="#22ab94"/><rect x="168.92" y="360.4" width="0.7" height="17.8" fill="#f23645" opacity="0.68"/><rect x="168.02" y="371.9" width="2.5" height="1.8" fill="#f23645"/><rect x="172.01" y="361.8" width="0.7" height="17.1" fill="#22ab94" opacity="0.68"/><rect x="171.11" y="366.2" width="2.5" height="7.5" fill="#22ab94"/><rect x="175.10" y="359.8" width="0.7" height="12.2" fill="#22ab94" opacity="0.68"/><rect x="174.20" y="363.9" width="2.5" height="2.3" fill="#22ab94"/><rect x="178.19" y="341.6" width="0.7" height="26.9" fill="#22ab94" opacity="0.68"/><rect x="177.29" y="345.8" width="2.5" height="18.1" fill="#22ab94"/><rect x="181.29" y="335.4" width="0.7" height="16.1" fill="#22ab94" opacity="0.68"/><rect x="180.39" y="344.3" width="2.5" height="1.5" fill="#22ab94"/><rect x="184.38" y="340.7" width="0.7" height="11.2" fill="#f23645" opacity="0.68"/><rect x="183.48" y="344.3" width="2.5" height="4.5" fill="#f23645"/><rect x="187.47" y="346.9" width="0.7" height="15.3" fill="#f23645" opacity="0.68"/><rect x="186.57" y="348.8" width="2.5" height="11.4" fill="#f23645"/><rect x="190.56" y="354.0" width="0.7" height="34.0" fill="#f23645" opacity="0.68"/><rect x="189.66" y="360.2" width="2.5" height="20.6" fill="#f23645"/><rect x="193.65" y="370.3" width="0.7" height="18.7" fill="#22ab94" opacity="0.68"/><rect x="192.75" y="378.3" width="2.5" height="2.5" fill="#22ab94"/><rect x="196.74" y="368.5" width="0.7" height="17.0" fill="#f23645" opacity="0.68"/><rect x="195.84" y="378.3" width="2.5" height="1.2" fill="#f23645"/><rect x="199.83" y="373.8" width="0.7" height="17.0" fill="#f23645" opacity="0.68"/><rect x="198.93" y="379.2" width="2.5" height="1.0" fill="#f23645"/><rect x="202.93" y="377.4" width="0.7" height="9.8" fill="#f23645" opacity="0.68"/><rect x="202.03" y="380.0" width="2.5" height="3.0" fill="#f23645"/><rect x="206.02" y="381.4" width="0.7" height="16.6" fill="#f23645" opacity="0.68"/><rect x="205.12" y="383.0" width="2.5" height="12.3" fill="#f23645"/><rect x="209.11" y="378.5" width="0.7" height="18.5" fill="#22ab94" opacity="0.68"/><rect x="208.21" y="382.5" width="2.5" height="12.8" fill="#22ab94"/><rect x="212.20" y="378.3" width="0.7" height="20.6" fill="#f23645" opacity="0.68"/><rect x="211.30" y="382.5" width="2.5" height="13.5" fill="#f23645"/><rect x="215.29" y="386.4" width="0.7" height="22.3" fill="#22ab94" opacity="0.68"/><rect x="214.39" y="392.4" width="2.5" height="3.6" fill="#22ab94"/><rect x="218.38" y="389.0" width="0.7" height="17.3" fill="#f23645" opacity="0.68"/><rect x="217.48" y="392.4" width="2.5" height="8.4" fill="#f23645"/><rect x="221.47" y="393.7" width="0.7" height="31.3" fill="#f23645" opacity="0.68"/><rect x="220.57" y="400.8" width="2.5" height="12.2" fill="#f23645"/><rect x="224.57" y="402.2" width="0.7" height="15.1" fill="#22ab94" opacity="0.68"/><rect x="223.67" y="407.0" width="2.5" height="6.0" fill="#22ab94"/><rect x="227.66" y="398.4" width="0.7" height="12.3" fill="#22ab94" opacity="0.68"/><rect x="226.76" y="402.9" width="2.5" height="4.1" fill="#22ab94"/><rect x="230.75" y="389.0" width="0.7" height="16.0" fill="#22ab94" opacity="0.68"/><rect x="229.85" y="392.5" width="2.5" height="10.4" fill="#22ab94"/><rect x="233.84" y="386.2" width="0.7" height="11.3" fill="#22ab94" opacity="0.68"/><rect x="232.94" y="389.3" width="2.5" height="3.2" fill="#22ab94"/><rect x="236.93" y="387.0" width="0.7" height="15.2" fill="#f23645" opacity="0.68"/><rect x="236.03" y="389.3" width="2.5" height="4.1" fill="#f23645"/><rect x="240.02" y="385.6" width="0.7" height="9.4" fill="#22ab94" opacity="0.68"/><rect x="239.12" y="386.9" width="2.5" height="6.5" fill="#22ab94"/><rect x="243.11" y="374.9" width="0.7" height="16.1" fill="#22ab94" opacity="0.68"/><rect x="242.21" y="378.4" width="2.5" height="8.5" fill="#22ab94"/><rect x="246.21" y="375.8" width="0.7" height="9.5" fill="#f23645" opacity="0.68"/><rect x="245.31" y="378.4" width="2.5" height="2.2" fill="#f23645"/><rect x="249.30" y="378.1" width="0.7" height="16.1" fill="#f23645" opacity="0.68"/><rect x="248.40" y="380.6" width="2.5" height="10.6" fill="#f23645"/><rect x="252.39" y="389.0" width="0.7" height="11.3" fill="#f23645" opacity="0.68"/><rect x="251.49" y="391.2" width="2.5" height="3.8" fill="#f23645"/><rect x="255.48" y="383.0" width="0.7" height="15.4" fill="#22ab94" opacity="0.68"/><rect x="254.58" y="390.0" width="2.5" height="5.0" fill="#22ab94"/><rect x="258.57" y="380.2" width="0.7" height="16.4" fill="#22ab94" opacity="0.68"/><rect x="257.67" y="383.0" width="2.5" height="7.0" fill="#22ab94"/><rect x="261.66" y="368.3" width="0.7" height="20.1" fill="#22ab94" opacity="0.68"/><rect x="260.76" y="373.1" width="2.5" height="9.9" fill="#22ab94"/><rect x="264.75" y="359.8" width="0.7" height="18.0" fill="#22ab94" opacity="0.68"/><rect x="263.85" y="364.8" width="2.5" height="8.3" fill="#22ab94"/><rect x="267.84" y="353.9" width="0.7" height="15.1" fill="#22ab94" opacity="0.68"/><rect x="266.94" y="356.7" width="2.5" height="8.1" fill="#22ab94"/><rect x="270.94" y="353.4" width="0.7" height="16.3" fill="#f23645" opacity="0.68"/><rect x="270.04" y="356.7" width="2.5" height="5.5" fill="#f23645"/><rect x="274.03" y="351.0" width="0.7" height="15.7" fill="#22ab94" opacity="0.68"/><rect x="273.13" y="353.9" width="2.5" height="8.3" fill="#22ab94"/><rect x="277.12" y="347.1" width="0.7" height="12.4" fill="#22ab94" opacity="0.68"/><rect x="276.22" y="348.9" width="2.5" height="5.0" fill="#22ab94"/><rect x="280.21" y="344.1" width="0.7" height="16.6" fill="#f23645" opacity="0.68"/><rect x="279.31" y="348.9" width="2.5" height="8.0" fill="#f23645"/><rect x="283.30" y="339.6" width="0.7" height="20.8" fill="#22ab94" opacity="0.68"/><rect x="282.40" y="345.6" width="2.5" height="11.3" fill="#22ab94"/><rect x="286.39" y="330.5" width="0.7" height="20.6" fill="#22ab94" opacity="0.68"/><rect x="285.49" y="336.9" width="2.5" height="8.7" fill="#22ab94"/><rect x="289.48" y="332.0" width="0.7" height="12.1" fill="#f23645" opacity="0.68"/><rect x="288.58" y="336.9" width="2.5" height="3.0" fill="#f23645"/><rect x="292.58" y="333.3" width="0.7" height="12.3" fill="#f23645" opacity="0.68"/><rect x="291.68" y="339.8" width="2.5" height="1.0" fill="#f23645"/><rect x="295.67" y="337.3" width="0.7" height="18.1" fill="#f23645" opacity="0.68"/><rect x="294.77" y="340.6" width="2.5" height="12.2" fill="#f23645"/><rect x="298.76" y="341.8" width="0.7" height="35.3" fill="#f23645" opacity="0.68"/><rect x="297.86" y="352.8" width="2.5" height="19.2" fill="#f23645"/><rect x="301.85" y="363.7" width="0.7" height="21.1" fill="#f23645" opacity="0.68"/><rect x="300.95" y="372.0" width="2.5" height="9.8" fill="#f23645"/><rect x="304.94" y="374.2" width="0.7" height="17.4" fill="#f23645" opacity="0.68"/><rect x="304.04" y="381.8" width="2.5" height="2.2" fill="#f23645"/><rect x="308.03" y="369.0" width="0.7" height="19.1" fill="#22ab94" opacity="0.68"/><rect x="307.13" y="372.7" width="2.5" height="11.3" fill="#22ab94"/><rect x="311.12" y="369.3" width="0.7" height="9.5" fill="#f23645" opacity="0.68"/><rect x="310.22" y="372.7" width="2.5" height="1.3" fill="#f23645"/><rect x="314.22" y="365.2" width="0.7" height="9.8" fill="#22ab94" opacity="0.68"/><rect x="313.32" y="368.2" width="2.5" height="5.8" fill="#22ab94"/><rect x="317.31" y="356.5" width="0.7" height="17.7" fill="#f23645" opacity="0.68"/><rect x="316.41" y="368.2" width="2.5" height="3.8" fill="#f23645"/><rect x="320.40" y="365.2" width="0.7" height="12.1" fill="#22ab94" opacity="0.68"/><rect x="319.50" y="371.1" width="2.5" height="1.0" fill="#22ab94"/><rect x="323.49" y="363.7" width="0.7" height="18.1" fill="#f23645" opacity="0.68"/><rect x="322.59" y="371.2" width="2.5" height="8.3" fill="#f23645"/><rect x="326.58" y="374.9" width="0.7" height="11.4" fill="#22ab94" opacity="0.68"/><rect x="325.68" y="378.0" width="2.5" height="1.5" fill="#22ab94"/><rect x="329.67" y="364.4" width="0.7" height="15.8" fill="#22ab94" opacity="0.68"/><rect x="328.77" y="368.2" width="2.5" height="9.8" fill="#22ab94"/><rect x="332.76" y="360.0" width="0.7" height="10.3" fill="#22ab94" opacity="0.68"/><rect x="331.86" y="364.0" width="2.5" height="4.2" fill="#22ab94"/><rect x="335.86" y="360.7" width="0.7" height="10.5" fill="#f23645" opacity="0.68"/><rect x="334.96" y="364.0" width="2.5" height="1.2" fill="#f23645"/><rect x="338.95" y="343.4" width="0.7" height="24.8" fill="#22ab94" opacity="0.68"/><rect x="338.05" y="347.1" width="2.5" height="18.1" fill="#22ab94"/><rect x="342.04" y="339.6" width="0.7" height="21.1" fill="#f23645" opacity="0.68"/><rect x="341.14" y="347.1" width="2.5" height="4.1" fill="#f23645"/><rect x="345.13" y="343.4" width="0.7" height="12.8" fill="#22ab94" opacity="0.68"/><rect x="344.23" y="350.2" width="2.5" height="1.0" fill="#22ab94"/><rect x="348.22" y="345.3" width="0.7" height="14.2" fill="#f23645" opacity="0.68"/><rect x="347.32" y="350.2" width="2.5" height="4.2" fill="#f23645"/><rect x="351.31" y="342.6" width="0.7" height="15.9" fill="#22ab94" opacity="0.68"/><rect x="350.41" y="347.1" width="2.5" height="7.3" fill="#22ab94"/><rect x="354.40" y="341.8" width="0.7" height="10.5" fill="#22ab94" opacity="0.68"/><rect x="353.50" y="345.6" width="2.5" height="1.5" fill="#22ab94"/><rect x="357.50" y="331.1" width="0.7" height="17.9" fill="#22ab94" opacity="0.68"/><rect x="356.60" y="334.3" width="2.5" height="11.3" fill="#22ab94"/><rect x="360.59" y="329.2" width="0.7" height="17.6" fill="#f23645" opacity="0.68"/><rect x="359.69" y="334.3" width="2.5" height="9.1" fill="#f23645"/><rect x="363.68" y="338.4" width="0.7" height="12.6" fill="#f23645" opacity="0.68"/><rect x="362.78" y="343.4" width="2.5" height="3.5" fill="#f23645"/><rect x="366.77" y="344.0" width="0.7" height="20.5" fill="#f23645" opacity="0.68"/><rect x="365.87" y="346.9" width="2.5" height="8.0" fill="#f23645"/><rect x="369.86" y="346.1" width="0.7" height="10.6" fill="#22ab94" opacity="0.68"/><rect x="368.96" y="350.4" width="2.5" height="4.5" fill="#22ab94"/><rect x="372.95" y="346.8" width="0.7" height="31.1" fill="#f23645" opacity="0.68"/><rect x="372.05" y="350.4" width="2.5" height="18.4" fill="#f23645"/><rect x="376.04" y="358.8" width="0.7" height="12.8" fill="#22ab94" opacity="0.68"/><rect x="375.14" y="362.7" width="2.5" height="6.1" fill="#22ab94"/><rect x="379.14" y="353.9" width="0.7" height="10.6" fill="#22ab94" opacity="0.68"/><rect x="378.24" y="357.2" width="2.5" height="5.5" fill="#22ab94"/><rect x="382.23" y="347.5" width="0.7" height="13.5" fill="#22ab94" opacity="0.68"/><rect x="381.33" y="350.4" width="2.5" height="6.8" fill="#22ab94"/><rect x="385.32" y="334.8" width="0.7" height="19.2" fill="#22ab94" opacity="0.68"/><rect x="384.42" y="340.9" width="2.5" height="9.5" fill="#22ab94"/><rect x="388.41" y="333.4" width="0.7" height="15.6" fill="#f23645" opacity="0.68"/><rect x="387.51" y="340.9" width="2.5" height="1.9" fill="#f23645"/><rect x="391.50" y="339.8" width="0.7" height="20.6" fill="#f23645" opacity="0.68"/><rect x="390.60" y="342.8" width="2.5" height="15.4" fill="#f23645"/><rect x="394.59" y="350.4" width="0.7" height="16.9" fill="#f23645" opacity="0.68"/><rect x="393.69" y="358.2" width="2.5" height="3.3" fill="#f23645"/><rect x="397.68" y="358.1" width="0.7" height="8.5" fill="#f23645" opacity="0.68"/><rect x="396.78" y="361.5" width="2.5" height="3.0" fill="#f23645"/><rect x="400.77" y="360.1" width="0.7" height="19.2" fill="#f23645" opacity="0.68"/><rect x="399.88" y="364.5" width="2.5" height="7.3" fill="#f23645"/><rect x="403.87" y="366.6" width="0.7" height="17.7" fill="#f23645" opacity="0.68"/><rect x="402.97" y="371.8" width="2.5" height="6.7" fill="#f23645"/><rect x="406.96" y="362.4" width="0.7" height="17.6" fill="#22ab94" opacity="0.68"/><rect x="406.06" y="369.5" width="2.5" height="9.0" fill="#22ab94"/><rect x="410.05" y="327.0" width="0.7" height="46.2" fill="#22ab94" opacity="0.68"/><rect x="409.15" y="332.6" width="2.5" height="36.9" fill="#22ab94"/><rect x="413.14" y="314.5" width="0.7" height="20.7" fill="#22ab94" opacity="0.68"/><rect x="412.24" y="317.0" width="2.5" height="15.6" fill="#22ab94"/><rect x="416.23" y="305.1" width="0.7" height="15.4" fill="#22ab94" opacity="0.68"/><rect x="415.33" y="309.7" width="2.5" height="7.3" fill="#22ab94"/><rect x="419.32" y="287.4" width="0.7" height="26.9" fill="#22ab94" opacity="0.68"/><rect x="418.42" y="291.1" width="2.5" height="18.6" fill="#22ab94"/><rect x="422.41" y="267.4" width="0.7" height="27.0" fill="#22ab94" opacity="0.68"/><rect x="421.51" y="272.5" width="2.5" height="18.6" fill="#22ab94"/><rect x="425.51" y="236.8" width="0.7" height="39.2" fill="#22ab94" opacity="0.68"/><rect x="424.61" y="240.8" width="2.5" height="31.7" fill="#22ab94"/><rect x="428.60" y="218.0" width="0.7" height="53.0" fill="#f23645" opacity="0.68"/><rect x="427.70" y="240.8" width="2.5" height="12.0" fill="#f23645"/><rect x="431.69" y="232.0" width="0.7" height="48.0" fill="#f23645" opacity="0.68"/><rect x="430.79" y="252.8" width="2.5" height="3.1" fill="#f23645"/><rect x="434.78" y="234.0" width="0.7" height="43.6" fill="#f23645" opacity="0.68"/><rect x="433.88" y="255.9" width="2.5" height="11.8" fill="#f23645"/><rect x="437.87" y="245.4" width="0.7" height="31.2" fill="#22ab94" opacity="0.68"/><rect x="436.97" y="249.7" width="2.5" height="18.0" fill="#22ab94"/><rect x="440.96" y="215.0" width="0.7" height="37.2" fill="#22ab94" opacity="0.68"/><rect x="440.06" y="234.2" width="2.5" height="15.5" fill="#22ab94"/><rect x="444.05" y="216.5" width="0.7" height="27.3" fill="#f23645" opacity="0.68"/><rect x="443.15" y="234.2" width="2.5" height="4.3" fill="#f23645"/><rect x="447.15" y="209.5" width="0.7" height="31.0" fill="#22ab94" opacity="0.68"/><rect x="446.25" y="222.2" width="2.5" height="16.3" fill="#22ab94"/><rect x="450.24" y="209.0" width="0.7" height="23.7" fill="#f23645" opacity="0.68"/><rect x="449.34" y="222.2" width="2.5" height="7.2" fill="#f23645"/><rect x="453.33" y="215.7" width="0.7" height="22.6" fill="#f23645" opacity="0.68"/><rect x="452.43" y="229.4" width="2.5" height="6.4" fill="#f23645"/><rect x="456.42" y="193.9" width="0.7" height="46.1" fill="#22ab94" opacity="0.68"/><rect x="455.52" y="201.9" width="2.5" height="33.9" fill="#22ab94"/><rect x="459.51" y="171.3" width="0.7" height="41.4" fill="#22ab94" opacity="0.68"/><rect x="458.61" y="183.8" width="2.5" height="18.1" fill="#22ab94"/><rect x="462.60" y="138.0" width="0.7" height="51.4" fill="#22ab94" opacity="0.68"/><rect x="461.70" y="167.3" width="2.5" height="16.5" fill="#22ab94"/><rect x="465.69" y="143.0" width="0.7" height="53.0" fill="#f23645" opacity="0.68"/><rect x="464.79" y="166.5" width="2.5" height="1.0" fill="#f23645"/><rect x="468.79" y="162.0" width="0.7" height="23.6" fill="#f23645" opacity="0.68"/><rect x="467.89" y="167.0" width="2.5" height="13.2" fill="#f23645"/><rect x="471.88" y="177.8" width="0.7" height="34.2" fill="#f23645" opacity="0.68"/><rect x="470.98" y="180.2" width="2.5" height="9.8" fill="#f23645"/><rect x="474.97" y="151.4" width="0.7" height="46.2" fill="#22ab94" opacity="0.68"/><rect x="474.07" y="154.5" width="2.5" height="35.5" fill="#22ab94"/><rect x="478.06" y="141.0" width="0.7" height="19.5" fill="#f23645" opacity="0.68"/><rect x="477.16" y="154.5" width="2.5" height="1.2" fill="#f23645"/><rect x="481.15" y="135.9" width="0.7" height="23.1" fill="#22ab94" opacity="0.68"/><rect x="480.25" y="138.0" width="2.5" height="17.7" fill="#22ab94"/><rect x="484.24" y="109.7" width="0.7" height="31.2" fill="#22ab94" opacity="0.68"/><rect x="483.34" y="125.0" width="2.5" height="13.0" fill="#22ab94"/><rect x="487.33" y="91.2" width="0.7" height="36.6" fill="#22ab94" opacity="0.68"/><rect x="486.43" y="108.0" width="2.5" height="17.0" fill="#22ab94"/><rect x="490.43" y="80.7" width="0.7" height="28.9" fill="#22ab94" opacity="0.68"/><rect x="489.53" y="94.5" width="2.5" height="13.5" fill="#22ab94"/><rect x="493.52" y="51.7" width="0.7" height="58.3" fill="#22ab94" opacity="0.68"/><rect x="492.62" y="81.0" width="2.5" height="13.5" fill="#22ab94"/><rect x="496.61" y="34.5" width="0.7" height="64.5" fill="#22ab94" opacity="0.68"/><rect x="495.71" y="70.2" width="2.5" height="10.8" fill="#22ab94"/><rect x="499.70" y="39.8" width="0.7" height="62.0" fill="#f23645" opacity="0.68"/><rect x="498.80" y="70.2" width="2.5" height="7.3" fill="#f23645"/><rect x="502.79" y="31.9" width="0.7" height="54.1" fill="#22ab94" opacity="0.68"/><rect x="501.89" y="48.0" width="2.5" height="29.5" fill="#22ab94"/><rect x="505.88" y="25.8" width="0.7" height="31.2" fill="#22ab94" opacity="0.68"/><rect x="504.98" y="39.6" width="2.5" height="8.4" fill="#22ab94"/><rect x="508.97" y="29.2" width="0.7" height="27.8" fill="#22ab94" opacity="0.68"/><rect x="508.07" y="38.4" width="2.5" height="1.2" fill="#22ab94"/><rect x="512.07" y="36.7" width="0.7" height="115.3" fill="#f23645" opacity="0.68"/><rect x="511.17" y="38.4" width="2.5" height="72.2" fill="#f23645"/><rect x="515.16" y="108.0" width="0.7" height="54.0" fill="#f23645" opacity="0.68"/><rect x="514.26" y="110.6" width="2.5" height="4.9" fill="#f23645"/><rect x="518.25" y="79.2" width="0.7" height="61.8" fill="#22ab94" opacity="0.68"/><rect x="517.35" y="82.4" width="2.5" height="33.1" fill="#22ab94"/><rect x="521.34" y="51.7" width="0.7" height="47.3" fill="#22ab94" opacity="0.68"/><rect x="520.44" y="77.5" width="2.5" height="4.9" fill="#22ab94"/><rect x="524.43" y="58.0" width="0.7" height="33.0" fill="#22ab94" opacity="0.68"/><rect x="523.53" y="70.0" width="2.5" height="7.5" fill="#22ab94"/><rect x="527.52" y="58.0" width="0.7" height="38.5" fill="#f23645" opacity="0.68"/><rect x="526.62" y="70.0" width="2.5" height="13.7" fill="#f23645"/><rect x="530.61" y="59.8" width="0.7" height="33.9" fill="#22ab94" opacity="0.68"/><rect x="529.71" y="69.5" width="2.5" height="14.2" fill="#22ab94"/><rect x="533.71" y="48.5" width="0.7" height="33.9" fill="#f23645" opacity="0.68"/><rect x="532.81" y="69.5" width="2.5" height="4.3" fill="#f23645"/><rect x="536.80" y="52.7" width="0.7" height="36.7" fill="#f23645" opacity="0.68"/><rect x="535.90" y="73.8" width="2.5" height="7.0" fill="#f23645"/><rect x="539.89" y="76.8" width="0.7" height="59.2" fill="#f23645" opacity="0.68"/><rect x="538.99" y="80.8" width="2.5" height="46.3" fill="#f23645"/><rect x="542.98" y="110.6" width="0.7" height="62.2" fill="#f23645" opacity="0.68"/><rect x="542.08" y="127.1" width="2.5" height="34.8" fill="#f23645"/><rect x="546.07" y="140.3" width="0.7" height="49.7" fill="#22ab94" opacity="0.68"/><rect x="545.17" y="149.2" width="2.5" height="12.7" fill="#22ab94"/><rect x="549.16" y="145.9" width="0.7" height="32.5" fill="#f23645" opacity="0.68"/><rect x="548.26" y="149.2" width="2.5" height="20.3" fill="#f23645"/><rect x="552.25" y="155.8" width="0.7" height="34.2" fill="#f23645" opacity="0.68"/><rect x="551.35" y="169.5" width="2.5" height="6.8" fill="#f23645"/><rect x="555.35" y="144.4" width="0.7" height="43.6" fill="#22ab94" opacity="0.68"/><rect x="554.45" y="147.0" width="2.5" height="29.3" fill="#22ab94"/><rect x="558.44" y="124.7" width="0.7" height="24.1" fill="#22ab94" opacity="0.68"/><rect x="557.54" y="133.0" width="2.5" height="14.0" fill="#22ab94"/><rect x="561.53" y="123.3" width="0.7" height="14.4" fill="#f23645" opacity="0.68"/><rect x="560.63" y="133.0" width="2.5" height="2.6" fill="#f23645"/><rect x="564.62" y="133.9" width="0.7" height="34.6" fill="#f23645" opacity="0.68"/><rect x="563.72" y="135.6" width="2.5" height="26.3" fill="#f23645"/><rect x="567.71" y="140.3" width="0.7" height="29.7" fill="#f23645" opacity="0.68"/><rect x="566.81" y="161.8" width="2.5" height="1.0" fill="#f23645"/><rect x="570.80" y="143.8" width="0.7" height="21.6" fill="#22ab94" opacity="0.68"/><rect x="569.90" y="148.3" width="2.5" height="14.4" fill="#22ab94"/><rect x="573.89" y="144.8" width="0.7" height="31.2" fill="#f23645" opacity="0.68"/><rect x="572.99" y="148.3" width="2.5" height="16.1" fill="#f23645"/><rect x="576.98" y="155.9" width="0.7" height="21.4" fill="#f23645" opacity="0.68"/><rect x="576.08" y="164.4" width="2.5" height="1.0" fill="#f23645"/><rect x="580.08" y="162.8" width="0.7" height="13.2" fill="#f23645" opacity="0.68"/><rect x="579.18" y="165.3" width="2.5" height="2.1" fill="#f23645"/><rect x="583.17" y="142.3" width="0.7" height="29.4" fill="#22ab94" opacity="0.68"/><rect x="582.27" y="148.3" width="2.5" height="19.1" fill="#22ab94"/><rect x="586.26" y="122.0" width="0.7" height="17.0" fill="#22ab94" opacity="0.68"/><rect x="585.36" y="133.8" width="2.5" height="14.5" fill="#22ab94"/><rect x="589.35" y="99.4" width="0.7" height="36.3" fill="#22ab94" opacity="0.68"/><rect x="588.45" y="105.6" width="2.5" height="28.2" fill="#22ab94"/><rect x="592.44" y="92.6" width="0.7" height="20.4" fill="#22ab94" opacity="0.68"/><rect x="591.54" y="102.0" width="2.5" height="3.6" fill="#22ab94"/><rect x="595.53" y="98.5" width="0.7" height="17.8" fill="#f23645" opacity="0.68"/><rect x="594.63" y="102.0" width="2.5" height="4.9" fill="#f23645"/><rect x="598.62" y="84.7" width="0.7" height="25.7" fill="#22ab94" opacity="0.68"/><rect x="597.72" y="98.0" width="2.5" height="8.9" fill="#22ab94"/><rect x="601.72" y="90.3" width="0.7" height="59.3" fill="#f23645" opacity="0.68"/><rect x="600.82" y="98.0" width="2.5" height="46.2" fill="#f23645"/><rect x="604.81" y="134.4" width="0.7" height="41.8" fill="#f23645" opacity="0.68"/><rect x="603.91" y="144.2" width="2.5" height="7.0" fill="#f23645"/><rect x="607.90" y="149.0" width="0.7" height="32.9" fill="#f23645" opacity="0.68"/><rect x="607.00" y="151.2" width="2.5" height="20.3" fill="#f23645"/><rect x="610.99" y="156.4" width="0.7" height="20.9" fill="#22ab94" opacity="0.68"/><rect x="610.09" y="159.5" width="2.5" height="12.0" fill="#22ab94"/><rect x="614.08" y="141.0" width="0.7" height="19.4" fill="#22ab94" opacity="0.68"/><rect x="613.18" y="149.8" width="2.5" height="9.7" fill="#22ab94"/><rect x="617.17" y="148.0" width="0.7" height="14.4" fill="#f23645" opacity="0.68"/><rect x="616.27" y="149.8" width="2.5" height="8.2" fill="#f23645"/><rect x="620.26" y="145.7" width="0.7" height="44.3" fill="#f23645" opacity="0.68"/><rect x="619.36" y="158.0" width="2.5" height="13.0" fill="#f23645"/><rect x="623.36" y="147.7" width="0.7" height="28.2" fill="#22ab94" opacity="0.68"/><rect x="622.46" y="152.9" width="2.5" height="18.1" fill="#22ab94"/><rect x="626.45" y="102.5" width="0.7" height="54.6" fill="#22ab94" opacity="0.68"/><rect x="625.55" y="107.6" width="2.5" height="45.3" fill="#22ab94"/><rect x="629.54" y="90.0" width="0.7" height="44.0" fill="#f23645" opacity="0.68"/><rect x="628.64" y="107.6" width="2.5" height="5.8" fill="#f23645"/><rect x="632.63" y="75.3" width="0.7" height="41.4" fill="#22ab94" opacity="0.68"/><rect x="631.73" y="85.9" width="2.5" height="27.5" fill="#22ab94"/><rect x="635.72" y="65.2" width="0.7" height="59.8" fill="#f23645" opacity="0.68"/><rect x="634.82" y="85.9" width="2.5" height="11.0" fill="#f23645"/><rect x="638.81" y="70.8" width="0.7" height="76.9" fill="#f23645" opacity="0.68"/><rect x="637.91" y="96.9" width="2.5" height="34.0" fill="#f23645"/><rect x="641.90" y="79.9" width="0.7" height="67.8" fill="#22ab94" opacity="0.68"/><rect x="641.00" y="123.2" width="2.5" height="7.7" fill="#22ab94"/><rect x="645.00" y="91.2" width="0.7" height="47.4" fill="#22ab94" opacity="0.68"/><rect x="644.10" y="106.0" width="2.5" height="17.2" fill="#22ab94"/><rect x="648.09" y="87.8" width="0.7" height="32.7" fill="#f23645" opacity="0.68"/><rect x="647.19" y="106.0" width="2.5" height="6.2" fill="#f23645"/><rect x="651.18" y="101.3" width="0.7" height="30.5" fill="#22ab94" opacity="0.68"/><rect x="650.28" y="111.2" width="2.5" height="1.0" fill="#22ab94"/><rect x="654.27" y="92.3" width="0.7" height="30.5" fill="#f23645" opacity="0.68"/><rect x="653.37" y="111.2" width="2.5" height="5.2" fill="#f23645"/><rect x="657.36" y="104.7" width="0.7" height="19.3" fill="#22ab94" opacity="0.68"/><rect x="656.46" y="113.4" width="2.5" height="3.0" fill="#22ab94"/><rect x="660.45" y="101.3" width="0.7" height="32.2" fill="#f23645" opacity="0.68"/><rect x="659.55" y="113.4" width="2.5" height="17.5" fill="#f23645"/><rect x="663.54" y="122.8" width="0.7" height="52.2" fill="#f23645" opacity="0.68"/><rect x="662.64" y="130.9" width="2.5" height="6.1" fill="#f23645"/><rect x="666.64" y="135.3" width="0.7" height="21.2" fill="#f23645" opacity="0.68"/><rect x="665.74" y="137.0" width="2.5" height="17.9" fill="#f23645"/><rect x="669.73" y="144.3" width="0.7" height="13.0" fill="#22ab94" opacity="0.68"/><rect x="668.83" y="147.0" width="2.5" height="7.9" fill="#22ab94"/><rect x="672.82" y="122.1" width="0.7" height="28.6" fill="#22ab94" opacity="0.68"/><rect x="671.92" y="125.9" width="2.5" height="21.1" fill="#22ab94"/><rect x="675.91" y="118.0" width="0.7" height="13.1" fill="#f23645" opacity="0.68"/><rect x="675.01" y="125.9" width="2.5" height="1.1" fill="#f23645"/><rect x="679.00" y="122.6" width="0.7" height="43.4" fill="#f23645" opacity="0.68"/><rect x="678.10" y="127.0" width="2.5" height="34.5" fill="#f23645"/><rect x="682.09" y="150.0" width="0.7" height="75.5" fill="#f23645" opacity="0.68"/><rect x="681.19" y="161.5" width="2.5" height="44.8" fill="#f23645"/><rect x="685.18" y="183.3" width="0.7" height="134.7" fill="#22ab94" opacity="0.68"/><rect x="684.28" y="191.8" width="2.5" height="14.5" fill="#22ab94"/><rect x="688.28" y="187.4" width="0.7" height="48.6" fill="#f23645" opacity="0.68"/><rect x="687.38" y="191.8" width="2.5" height="26.9" fill="#f23645"/><rect x="691.37" y="207.0" width="0.7" height="29.0" fill="#f23645" opacity="0.68"/><rect x="690.47" y="218.7" width="2.5" height="7.3" fill="#f23645"/><rect x="694.46" y="211.0" width="0.7" height="41.0" fill="#f23645" opacity="0.68"/><rect x="693.56" y="226.0" width="2.5" height="13.3" fill="#f23645"/><rect x="697.55" y="213.7" width="0.7" height="38.3" fill="#f23645" opacity="0.68"/><rect x="696.65" y="239.1" width="2.5" height="1.0" fill="#f23645"/><rect x="700.64" y="225.5" width="0.7" height="18.5" fill="#22ab94" opacity="0.68"/><rect x="699.74" y="232.2" width="2.5" height="7.6" fill="#22ab94"/><rect x="703.73" y="216.4" width="0.7" height="33.6" fill="#f23645" opacity="0.68"/><rect x="702.83" y="232.2" width="2.5" height="2.0" fill="#f23645"/><rect x="706.82" y="220.0" width="0.7" height="25.0" fill="#22ab94" opacity="0.68"/><rect x="705.92" y="226.3" width="2.5" height="7.9" fill="#22ab94"/><rect x="709.92" y="217.6" width="0.7" height="16.8" fill="#f23645" opacity="0.68"/><rect x="709.02" y="226.3" width="2.5" height="3.0" fill="#f23645"/><rect x="713.01" y="203.0" width="0.7" height="30.6" fill="#22ab94" opacity="0.68"/><rect x="712.11" y="210.0" width="2.5" height="19.3" fill="#22ab94"/><rect x="716.10" y="199.5" width="0.7" height="31.0" fill="#f23645" opacity="0.68"/><rect x="715.20" y="210.0" width="2.5" height="7.0" fill="#f23645"/><rect x="719.19" y="188.4" width="0.7" height="32.6" fill="#22ab94" opacity="0.68"/><rect x="718.29" y="203.8" width="2.5" height="13.2" fill="#22ab94"/><rect x="722.28" y="195.0" width="0.7" height="18.3" fill="#f23645" opacity="0.68"/><rect x="721.38" y="203.8" width="2.5" height="4.7" fill="#f23645"/><rect x="725.37" y="195.0" width="0.7" height="24.0" fill="#f23645" opacity="0.68"/><rect x="724.47" y="208.5" width="2.5" height="5.5" fill="#f23645"/><rect x="728.46" y="195.0" width="0.7" height="37.5" fill="#f23645" opacity="0.68"/><rect x="727.56" y="213.9" width="2.5" height="1.0" fill="#f23645"/><rect x="731.55" y="211.3" width="0.7" height="33.7" fill="#f23645" opacity="0.68"/><rect x="730.65" y="214.8" width="2.5" height="15.0" fill="#f23645"/><rect x="734.65" y="214.6" width="0.7" height="22.4" fill="#22ab94" opacity="0.68"/><rect x="733.75" y="219.3" width="2.5" height="10.5" fill="#22ab94"/><rect x="737.74" y="206.5" width="0.7" height="16.4" fill="#22ab94" opacity="0.68"/><rect x="736.84" y="213.0" width="2.5" height="6.3" fill="#22ab94"/><rect x="740.83" y="198.6" width="0.7" height="38.4" fill="#f23645" opacity="0.68"/><rect x="739.93" y="213.0" width="2.5" height="15.9" fill="#f23645"/><rect x="743.92" y="207.6" width="0.7" height="23.8" fill="#22ab94" opacity="0.68"/><rect x="743.02" y="217.3" width="2.5" height="11.6" fill="#22ab94"/><rect x="747.01" y="207.6" width="0.7" height="12.3" fill="#22ab94" opacity="0.68"/><rect x="746.11" y="216.2" width="2.5" height="1.1" fill="#22ab94"/><rect x="750.10" y="211.0" width="0.7" height="61.0" fill="#f23645" opacity="0.68"/><rect x="749.20" y="216.2" width="2.5" height="50.1" fill="#f23645"/><rect x="753.19" y="256.0" width="0.7" height="41.0" fill="#22ab94" opacity="0.68"/><rect x="752.29" y="264.6" width="2.5" height="1.7" fill="#22ab94"/><rect x="756.29" y="261.1" width="0.7" height="32.4" fill="#f23645" opacity="0.68"/><rect x="755.39" y="264.6" width="2.5" height="16.2" fill="#f23645"/><rect x="759.38" y="266.0" width="0.7" height="29.7" fill="#f23645" opacity="0.68"/><rect x="758.48" y="280.8" width="2.5" height="2.1" fill="#f23645"/><rect x="762.47" y="276.5" width="0.7" height="28.5" fill="#f23645" opacity="0.68"/><rect x="761.57" y="282.9" width="2.5" height="3.7" fill="#f23645"/><rect x="765.56" y="274.0" width="0.7" height="24.0" fill="#22ab94" opacity="0.68"/><rect x="764.66" y="283.9" width="2.5" height="2.1" fill="#22ab94"/><rect x="768.65" y="209.2" width="0.7" height="77.2" fill="#22ab94" opacity="0.68"/><rect x="767.75" y="217.6" width="2.5" height="66.3" fill="#22ab94"/><rect x="771.74" y="212.0" width="0.7" height="83.4" fill="#f23645" opacity="0.68"/><rect x="770.84" y="217.6" width="2.5" height="70.4" fill="#f23645"/><rect x="774.83" y="257.3" width="0.7" height="55.0" fill="#22ab94" opacity="0.68"/><rect x="773.93" y="277.7" width="2.5" height="5.3" fill="#22ab94"/><rect x="777.93" y="257.3" width="0.7" height="23.0" fill="#22ab94" opacity="0.68"/><rect x="777.03" y="265.3" width="2.5" height="12.4" fill="#22ab94"/><rect x="781.02" y="247.4" width="0.7" height="33.9" fill="#f23645" opacity="0.68"/><rect x="780.12" y="265.3" width="2.5" height="3.1" fill="#f23645"/><rect x="784.11" y="264.2" width="0.7" height="25.5" fill="#f23645" opacity="0.68"/><rect x="783.21" y="268.4" width="2.5" height="13.6" fill="#f23645"/><rect x="787.20" y="278.4" width="0.7" height="7.9" fill="#f23645" opacity="0.68"/><rect x="786.30" y="281.9" width="2.5" height="1.0" fill="#f23645"/><rect x="790.29" y="279.5" width="0.7" height="41.3" fill="#f23645" opacity="0.68"/><rect x="789.39" y="282.9" width="2.5" height="32.2" fill="#f23645"/><rect x="793.38" y="294.0" width="0.7" height="49.4" fill="#f23645" opacity="0.68"/><rect x="792.48" y="315.1" width="2.5" height="22.0" fill="#f23645"/><rect x="796.47" y="316.5" width="0.7" height="38.5" fill="#22ab94" opacity="0.68"/><rect x="795.57" y="321.9" width="2.5" height="15.2" fill="#22ab94"/><rect x="799.57" y="309.5" width="0.7" height="15.7" fill="#22ab94" opacity="0.68"/><rect x="798.67" y="315.1" width="2.5" height="6.8" fill="#22ab94"/><rect x="802.66" y="310.3" width="0.7" height="15.8" fill="#f23645" opacity="0.68"/><rect x="801.76" y="315.1" width="2.5" height="5.6" fill="#f23645"/><rect x="805.75" y="302.5" width="0.7" height="21.1" fill="#22ab94" opacity="0.68"/><rect x="804.85" y="308.3" width="2.5" height="12.4" fill="#22ab94"/><rect x="808.84" y="293.6" width="0.7" height="20.0" fill="#22ab94" opacity="0.68"/><rect x="807.94" y="299.8" width="2.5" height="8.5" fill="#22ab94"/><rect x="811.93" y="296.8" width="0.7" height="21.6" fill="#f23645" opacity="0.68"/><rect x="811.03" y="299.8" width="2.5" height="14.4" fill="#f23645"/><rect x="815.02" y="297.6" width="0.7" height="20.2" fill="#22ab94" opacity="0.68"/><rect x="814.12" y="304.4" width="2.5" height="9.8" fill="#22ab94"/><rect x="818.11" y="300.0" width="0.7" height="18.4" fill="#f23645" opacity="0.68"/><rect x="817.21" y="304.4" width="2.5" height="2.7" fill="#f23645"/><rect x="821.21" y="281.6" width="0.7" height="28.8" fill="#22ab94" opacity="0.68"/><rect x="820.31" y="286.3" width="2.5" height="20.8" fill="#22ab94"/><rect x="824.30" y="280.8" width="0.7" height="23.2" fill="#f23645" opacity="0.68"/><rect x="823.40" y="286.3" width="2.5" height="11.3" fill="#f23645"/><rect x="827.39" y="295.2" width="0.7" height="12.0" fill="#f23645" opacity="0.68"/><rect x="826.49" y="297.6" width="2.5" height="3.9" fill="#f23645"/><rect x="830.48" y="293.6" width="0.7" height="9.0" fill="#22ab94" opacity="0.68"/><rect x="829.58" y="299.2" width="2.5" height="1.8" fill="#22ab94"/><rect x="833.57" y="292.0" width="0.7" height="10.7" fill="#22ab94" opacity="0.68"/><rect x="832.67" y="293.5" width="2.5" height="5.7" fill="#22ab94"/><rect x="836.66" y="275.2" width="0.7" height="21.0" fill="#22ab94" opacity="0.68"/><rect x="835.76" y="281.7" width="2.5" height="11.8" fill="#22ab94"/><rect x="839.75" y="273.6" width="0.7" height="11.0" fill="#22ab94" opacity="0.68"/><rect x="838.85" y="280.4" width="2.5" height="1.3" fill="#22ab94"/><rect x="842.85" y="272.8" width="0.7" height="21.6" fill="#f23645" opacity="0.68"/><rect x="841.95" y="280.4" width="2.5" height="9.4" fill="#f23645"/><rect x="845.94" y="280.0" width="0.7" height="14.4" fill="#22ab94" opacity="0.68"/><rect x="845.04" y="287.9" width="2.5" height="1.9" fill="#22ab94"/><rect x="849.03" y="284.8" width="0.7" height="28.8" fill="#f23645" opacity="0.68"/><rect x="848.13" y="287.9" width="2.5" height="20.7" fill="#f23645"/><rect x="852.12" y="304.8" width="0.7" height="24.2" fill="#f23645" opacity="0.68"/><rect x="851.22" y="308.6" width="2.5" height="13.2" fill="#f23645"/><rect x="855.21" y="314.4" width="0.7" height="15.2" fill="#f23645" opacity="0.68"/><rect x="854.31" y="321.8" width="2.5" height="1.9" fill="#f23645"/><rect x="858.30" y="317.7" width="0.7" height="16.8" fill="#f23645" opacity="0.68"/><rect x="857.40" y="323.7" width="2.5" height="1.3" fill="#f23645"/><rect x="861.39" y="306.9" width="0.7" height="22.7" fill="#22ab94" opacity="0.68"/><rect x="860.49" y="314.3" width="2.5" height="10.7" fill="#22ab94"/><rect x="864.49" y="302.9" width="0.7" height="34.6" fill="#f23645" opacity="0.68"/><rect x="863.59" y="314.3" width="2.5" height="19.7" fill="#f23645"/><rect x="867.58" y="322.7" width="0.7" height="21.7" fill="#22ab94" opacity="0.68"/><rect x="866.68" y="330.6" width="2.5" height="3.4" fill="#22ab94"/><rect x="870.67" y="320.7" width="0.7" height="19.8" fill="#22ab94" opacity="0.68"/><rect x="869.77" y="326.9" width="2.5" height="3.7" fill="#22ab94"/><rect x="873.76" y="324.3" width="0.7" height="10.3" fill="#f23645" opacity="0.68"/><rect x="872.86" y="326.9" width="2.5" height="2.4" fill="#f23645"/><rect x="876.85" y="326.8" width="0.7" height="45.2" fill="#f23645" opacity="0.68"/><rect x="875.95" y="329.3" width="2.5" height="36.6" fill="#f23645"/><rect x="879.94" y="351.4" width="0.7" height="46.4" fill="#22ab94" opacity="0.68"/><rect x="879.04" y="364.9" width="2.5" height="1.0" fill="#22ab94"/><rect x="883.03" y="352.3" width="0.7" height="28.7" fill="#f23645" opacity="0.68"/><rect x="882.13" y="365.0" width="2.5" height="12.8" fill="#f23645"/><rect x="886.12" y="336.5" width="0.7" height="52.5" fill="#22ab94" opacity="0.68"/><rect x="885.22" y="342.2" width="2.5" height="35.6" fill="#22ab94"/><rect x="889.22" y="338.2" width="0.7" height="23.8" fill="#f23645" opacity="0.68"/><rect x="888.32" y="342.2" width="2.5" height="15.6" fill="#f23645"/><rect x="892.31" y="340.5" width="0.7" height="19.5" fill="#22ab94" opacity="0.68"/><rect x="891.41" y="347.3" width="2.5" height="10.5" fill="#22ab94"/><rect x="895.40" y="324.7" width="0.7" height="25.9" fill="#22ab94" opacity="0.68"/><rect x="894.50" y="330.3" width="2.5" height="17.0" fill="#22ab94"/><rect x="898.49" y="324.4" width="0.7" height="23.3" fill="#f23645" opacity="0.68"/><rect x="897.59" y="330.3" width="2.5" height="11.6" fill="#f23645"/><rect x="901.58" y="326.9" width="0.7" height="17.8" fill="#22ab94" opacity="0.68"/><rect x="900.68" y="340.5" width="2.5" height="1.4" fill="#22ab94"/><rect x="904.67" y="332.0" width="0.7" height="16.5" fill="#f23645" opacity="0.68"/><rect x="903.77" y="340.5" width="2.5" height="7.6" fill="#f23645"/><rect x="907.76" y="340.5" width="0.7" height="15.2" fill="#22ab94" opacity="0.68"/><rect x="906.86" y="347.4" width="2.5" height="1.0" fill="#22ab94"/><rect x="910.86" y="337.9" width="0.7" height="12.7" fill="#22ab94" opacity="0.68"/><rect x="909.96" y="344.7" width="2.5" height="2.9" fill="#22ab94"/><rect x="913.95" y="339.2" width="0.7" height="9.3" fill="#22ab94" opacity="0.68"/><rect x="913.05" y="343.6" width="2.5" height="1.1" fill="#22ab94"/><rect x="917.04" y="334.5" width="0.7" height="10.2" fill="#22ab94" opacity="0.68"/><rect x="916.14" y="337.5" width="2.5" height="6.1" fill="#22ab94"/><rect x="920.13" y="333.7" width="0.7" height="12.3" fill="#f23645" opacity="0.68"/><rect x="919.23" y="337.5" width="2.5" height="2.7" fill="#f23645"/><rect x="923.22" y="327.7" width="0.7" height="14.8" fill="#22ab94" opacity="0.68"/><rect x="922.32" y="330.0" width="2.5" height="10.2" fill="#22ab94"/></g><rect x="0" y="329.5" width="975" height="1.2" fill="#22ab94" opacity="0.16"/></svg>
<div class="pl" style="top:17.0px">1.65 T</div><div class="pl" style="top:39.9px">1.6 T</div><div class="pl" style="top:62.8px">1.55 T</div><div class="pl" style="top:85.7px">1.5 T</div><div class="pl" style="top:108.6px">1.45 T</div><div class="pl" style="top:131.4px">1.4 T</div><div class="pl" style="top:154.3px">1.35 T</div><div class="pl" style="top:177.2px">1.3 T</div><div class="pl" style="top:200.1px">1.25 T</div><div class="pl" style="top:223.0px">1.2 T</div><div class="pl" style="top:245.9px">1.15 T</div><div class="pl" style="top:268.8px">1.1 T</div><div class="pl" style="top:291.6px">1.05 T</div><div class="pl" style="top:314.5px">1 T</div><div class="pl" style="top:337.4px">950 B</div><div class="pl" style="top:360.3px">900 B</div><div class="pl" style="top:383.2px">850 B</div><div class="pl" style="top:406.1px">800 B</div><div class="pl" style="top:428.9px">750 B</div><div class="pl" style="top:451.8px">700 B</div><div class="pl" style="top:474.7px">650 B</div><div class="pl" style="top:497.6px">600 B</div>
<div id="topmask"></div>
<div id="usd"><span>USD</span><svg width="5" height="4" viewBox="0 0 5 4"><path d="M0.5 0.8 L2.5 2.8 L4.5 0.8" stroke="#d1d4dc" stroke-width="1" fill="none"/></svg></div>
<div id="pricebox"><div style="margin-top:1.5px">979.37&#8201;B</div><div>17:27:56</div></div>
<div id="volbox"><div>77.37&#8201;B</div></div>
<div class="tl" style="left:-5.3px">Jul</div><div class="tl" style="left:90.5px">Aug</div><div class="tl" style="left:186.4px">Sep</div><div class="tl" style="left:279.1px">Oct</div><div class="tl" style="left:374.9px">Nov</div><div class="tl" style="left:467.7px">Dec</div><div class="tl yr" style="left:563.5px">2025</div><div class="tl" style="left:659.4px">Feb</div><div class="tl" style="left:745.9px">Mar</div><div class="tl" style="left:841.7px">Apr</div><div class="tl" style="left:934.5px">May</div>
<svg id="logo" width="13" height="13" viewBox="0 0 13 13"><circle cx="6.5" cy="6.5" r="6.2" fill="#2962ff"/><path d="M9.2 4.2 A3.6 3.6 0 1 0 9.2 8.8" stroke="#fff" stroke-width="1.3" fill="none"/><circle cx="7.2" cy="6.5" r="1.2" fill="#fff"/></svg>
<div id="title">Crypto Total Market Cap Excluding BTC, $ · 1D · CRYPTOCAP</div>
<svg id="dot" width="12" height="12" viewBox="0 0 12 12"><circle cx="6" cy="6" r="5.6" fill="#22ab94" opacity="0.22"/><circle cx="6" cy="6" r="2.8" fill="#22ab94"/></svg>
<div id="ohlc"><b>O</b>956.81&#8201;B <b>H</b>983.47&#8201;B <b>L</b>956.02&#8201;B <b>C</b>979.37&#8201;B +22.56&#8201;B (+2.36%)</div>
<div class="box" id="sell"><div class="n">979,371,567,288</div><div class="s" style="color:#d9343f">SELL</div></div>
<div id="zero">0</div>
<div class="box" id="buy"><div class="n">979,371,567,288</div><div class="s" style="color:#2a5ee8">BUY</div></div>
<div id="vol">Vol<span>77.37&#8201;B</span></div>
<div id="coll"><svg width="17" height="13" viewBox="0 0 17 13"><path d="M6 7.6 L8.5 5.2 L11 7.6" stroke="#d1d4dc" stroke-width="1.3" fill="none"/></svg></div>
<svg id="tvlogo" width="120" height="22" viewBox="0 0 120 22"><g transform="translate(7,1.5) scale(0.577)" fill="#f0f3fa" stroke="#131722" stroke-width="3" paint-order="stroke" stroke-linejoin="round"><path d="M14 22H7V11H0V4h14v18zM28 22h-8l7.5-18h8L28 22z"/><circle cx="20" cy="8" r="4"/></g><text x="32.8" y="14.3" font-family="Liberation Sans, Arial, sans-serif" font-weight="bold" font-size="13.6" fill="#f0f3fa" stroke="#131722" stroke-width="2.2" paint-order="stroke" stroke-linejoin="round" textLength="82.7" lengthAdjust="spacingAndGlyphs">TradingView</text></svg>
<svg id="events" width="30" height="18" viewBox="914 497 30 18"><circle cx="922.3" cy="505.6" r="5.9" fill="#0c0c0e" stroke="#9c3fb8" stroke-width="1"/><path d="M923.6 501.2 L919.3 506.2 L921.9 506.2 L920.4 510 L925 504.7 L922.3 504.7 Z" fill="#a445c4"/><circle cx="932.7" cy="504.9" r="6.7" fill="#0c0c0e" stroke="#d5303c" stroke-width="1.3"/><clipPath id="fc"><circle cx="932.7" cy="504.9" r="5.2"/></clipPath><g clip-path="url(#fc)"><rect x="927" y="499" width="12" height="12" fill="#f5f5f5"/><rect x="933" y="499.5" width="6" height="1.3" fill="#ea4a4f"/><rect x="933" y="502.1" width="6" height="1.3" fill="#ea4a4f"/><rect x="933" y="504.7" width="6" height="1.3" fill="#ea4a4f"/><rect x="927" y="507.3" width="12" height="1.3" fill="#ea4a4f"/><rect x="927" y="509.6" width="12" height="1.6" fill="#ea4a4f"/><rect x="927" y="499" width="6.5" height="7" fill="#3d7be8"/></g></svg>
<svg id="gear" width="12" height="12" viewBox="0 0 12 12"><path d="M6 0.8 L10.5 3.4 L10.5 8.6 L6 11.2 L1.5 8.6 L1.5 3.4 Z" stroke="#b2b5be" stroke-width="1" fill="none"/><circle cx="6" cy="6" r="1.8" stroke="#b2b5be" stroke-width="1" fill="none"/></svg>
</body></html>
